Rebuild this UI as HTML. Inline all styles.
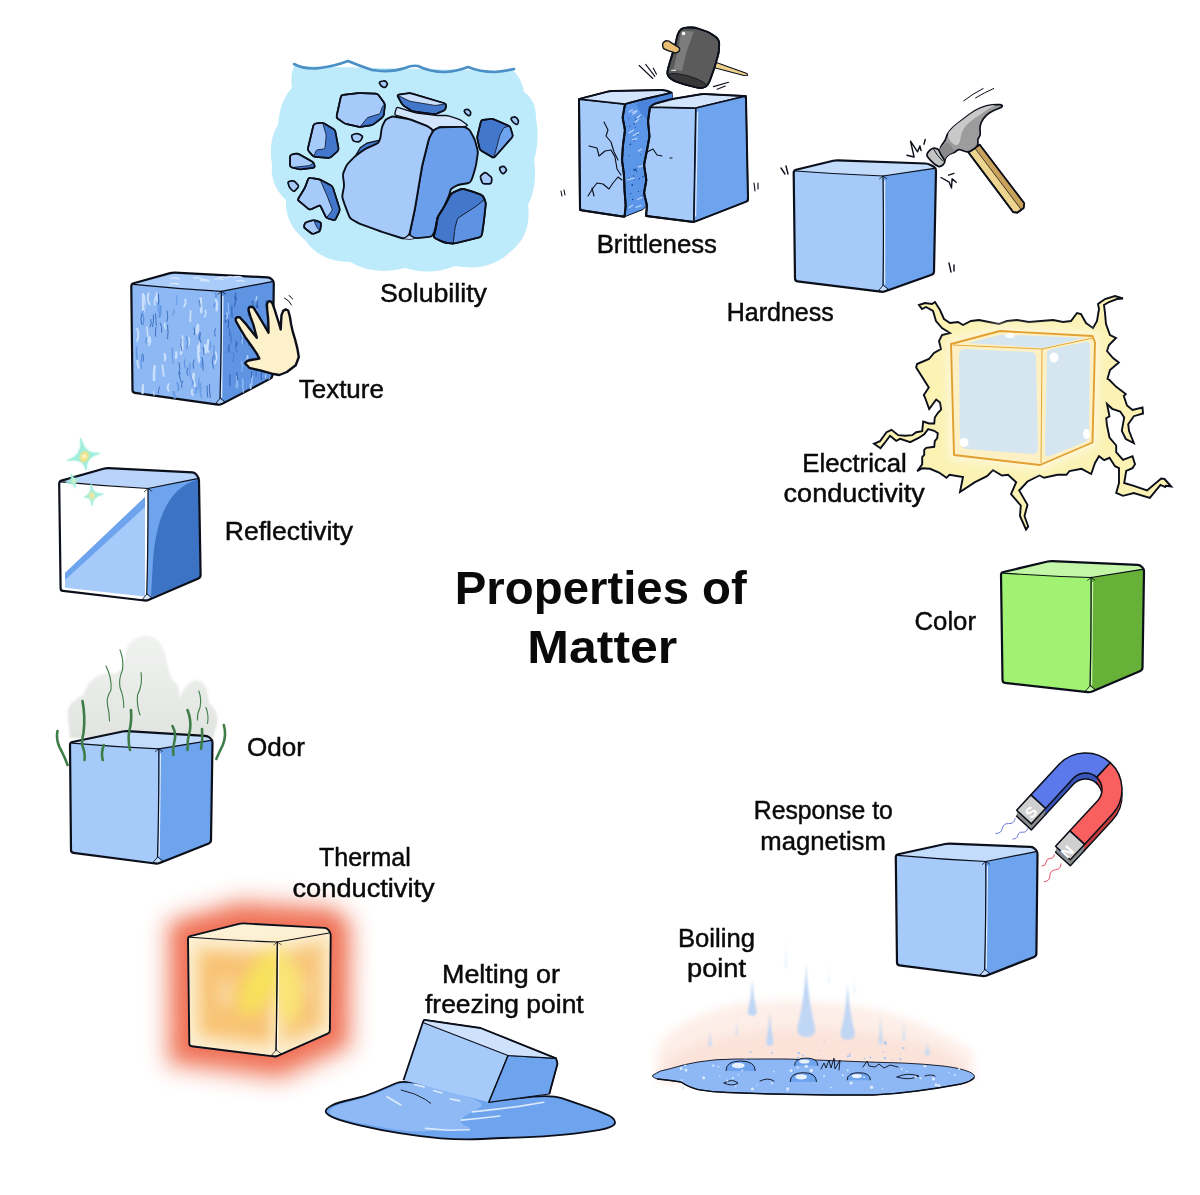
<!DOCTYPE html>
<html lang="en"><head><meta charset="utf-8"><title>Properties of Matter</title>
<style>
html,body{margin:0;padding:0;background:#fff;}
body{width:1200px;height:1195px;overflow:hidden;}
svg{display:block;}
text{font-family:"Liberation Sans",sans-serif;fill:#0a0a0a;}
.lb{font-size:25px;stroke:#0a0a0a;stroke-width:0.45px;}
.ttl{font-size:46px;font-weight:bold;}
</style></head><body>
<svg width="1200" height="1195" viewBox="0 0 1200 1195">
<defs>
<filter id="blur8" x="-30%" y="-30%" width="160%" height="160%"><feGaussianBlur stdDeviation="8"/></filter>
<filter id="blur5" x="-30%" y="-30%" width="160%" height="160%"><feGaussianBlur stdDeviation="5"/></filter>
<filter id="blur3" x="-30%" y="-30%" width="160%" height="160%"><feGaussianBlur stdDeviation="3"/></filter>
<filter id="blur1" x="-30%" y="-30%" width="160%" height="160%"><feGaussianBlur stdDeviation="1.2"/></filter>
<radialGradient id="thermF" cx="0.85" cy="0.45" r="0.8">
 <stop offset="0" stop-color="#f9e468"/><stop offset="0.45" stop-color="#f8c878"/><stop offset="0.8" stop-color="#f9d59a"/><stop offset="1" stop-color="#fdf1d6"/>
</radialGradient>
<radialGradient id="thermR" cx="0.1" cy="0.45" r="0.9">
 <stop offset="0" stop-color="#faea7a"/><stop offset="0.5" stop-color="#f8cb80"/><stop offset="1" stop-color="#fdf1d6"/>
</radialGradient>
<linearGradient id="smokeG" x1="0" y1="0" x2="0" y2="1">
 <stop offset="0" stop-color="#f1f3f1"/><stop offset="1" stop-color="#e0e3e0"/>
</linearGradient>
</defs>
<g stroke="#0b0f1a" stroke-width="2.2" stroke-linejoin="round" stroke-linecap="round"><path d="M793.7,172.8 Q793.7,170.4 796.0,169.8 L833.2,160.8 Q835.5,160.2 837.9,160.3 L925.6,163.5 Q928.0,163.6 930.1,164.8 L933.9,166.8 Q936.0,168.0 936.0,170.4 L934.0,271.6 Q934.0,274.0 931.7,274.8 L885.3,291.2 Q883.0,292.0 880.6,291.7 L797.4,281.3 Q795.0,281.0 795.0,278.6 Z" fill="#a6cbfb" stroke="none"/><clipPath id="cube1"><path d="M793.7,172.8 Q793.7,170.4 796.0,169.8 L833.2,160.8 Q835.5,160.2 837.9,160.3 L925.6,163.5 Q928.0,163.6 930.1,164.8 L933.9,166.8 Q936.0,168.0 936.0,170.4 L934.0,271.6 Q934.0,274.0 931.7,274.8 L885.3,291.2 Q883.0,292.0 880.6,291.7 L797.4,281.3 Q795.0,281.0 795.0,278.6 Z"/></clipPath><g clip-path="url(#cube1)" stroke="none"><polygon points="793.7,170.4 835.5,160.2 928.0,163.6 936.0,168.0 883.0,176.0" fill="#c4dcfc"/><polygon points="883.0,176.0 936.0,168.0 942.0,168.0 940.0,274.0 934.0,274.0 883.0,292.0" fill="#6ea3ee"/></g><path d="M795.7,171.0 Q838.4,174.4 883.0,176.0 L934.5,168.3" fill="none" stroke-width="1.21"/><path d="M884.6,181.0 L884.6,284.0" fill="none" stroke="#dceafe" stroke-width="1.3"/><path d="M883.0,176.0 Q883.8,234.0 883.0,285.5" fill="none" stroke-width="1.21"/><polygon points="883.0,285.5 878.5,290.6 883.0,291.7 888.0,289.4" fill="#c4dcfc" stroke-width="0.88"/><path d="M883.0,176.0 l-3.5,3 M883.0,176.0 l3.8,2.6" fill="none" stroke-width="0.77"/><path d="M793.7,172.8 Q793.7,170.4 796.0,169.8 L833.2,160.8 Q835.5,160.2 837.9,160.3 L925.6,163.5 Q928.0,163.6 930.1,164.8 L933.9,166.8 Q936.0,168.0 936.0,170.4 L934.0,271.6 Q934.0,274.0 931.7,274.8 L885.3,291.2 Q883.0,292.0 880.6,291.7 L797.4,281.3 Q795.0,281.0 795.0,278.6 Z" fill="none"/></g>
<g stroke="#0b0f1a" stroke-width="1.7" stroke-linejoin="round" stroke-linecap="round"><polygon points="968.5,152.4 979.7,144.7 1024.2,203.3 1023.6,208.0 1017.2,212.7 1013.1,212.1" fill="#edd590"/><polygon points="975.0,148.3 979.7,144.7 1024.2,203.3 1023.6,208.0 1020.7,209.8" fill="#c9a25c" stroke="none"/><path d="M975.0,148.3 1020.7,208.9" stroke-width="0.7" fill="none"/><polygon points="968.5,152.4 979.7,144.7 1024.2,203.3 1023.6,208.0 1017.2,212.7 1013.1,212.1" fill="none"/><path d="M941.6,155.6 Q938.7,148.8 942.2,144.5 Q945.7,140.1 946.3,137.1 Q946.9,134.2 949.8,130.7 Q952.7,127.2 958.0,123.1 Q963.3,119.0 969.1,114.6 Q975.0,110.2 980.8,107.8 Q986.7,105.5 992.0,104.9 Q997.2,104.3 999.9,104.7 Q1002.5,105.1 1002.3,106.2 Q1002.2,107.3 997.9,108.7 Q993.7,110.2 989.6,112.8 Q985.5,115.5 983.2,119.0 Q980.8,122.5 980.2,126.0 Q979.7,129.5 980.2,132.4 Q980.8,135.4 979.1,137.1 Q977.3,138.9 977.9,141.8 Q978.5,144.7 976.7,146.5 Q975.0,148.3 971.8,150.3 Q968.5,152.4 966.2,151.8 Q963.8,151.2 961.2,150.0 Q958.6,148.8 956.8,150.6 Q955.1,152.4 952.1,153.2 Q949.2,154.1 947.2,156.2 Q945.1,158.2 944.8,160.3 Q944.5,162.3 941.6,155.6Z" fill="#9c9c9c"/><path d="M948.6,138.0 Q946.9,134.8 949.8,131.1 Q952.7,127.4 958.0,123.3 Q963.3,119.2 969.1,114.9 Q975.0,110.5 980.8,108.2 Q986.7,105.9 992.0,105.3 Q997.2,104.7 993.1,106.6 Q989.0,108.4 984.3,111.7 Q979.7,114.9 975.0,118.1 Q970.3,121.3 966.8,124.8 Q963.3,128.3 962.1,131.9 Q960.9,135.4 960.3,139.5 Q959.7,143.6 957.4,144.7 Q955.1,145.9 952.7,143.6 Q950.4,141.2 948.6,138.0Z" fill="#c9c9c9" stroke="none"/><path d="M939.8,152.8 Q938.7,149.2 942.5,145.2 Q946.3,141.2 948.9,143.6 Q951.5,145.9 953.3,148.8 Q955.1,151.8 952.1,152.8 Q949.2,153.9 947.2,156.1 Q945.1,158.2 944.8,160.0 Q944.5,161.7 942.8,159.1 Q941.0,156.5 939.8,152.8Z" fill="#8a8a8a" stroke="none"/><path d="M927.2,153.5 Q928.1,151.8 930.5,149.7 Q932.8,147.7 935.7,148.3 Q938.7,148.8 939.5,151.5 Q940.4,154.1 942.5,157.0 Q944.5,160.0 944.8,161.4 Q945.1,162.9 942.8,165.0 Q940.4,167.0 938.4,166.4 Q936.3,165.8 933.1,162.9 Q929.9,160.0 928.1,157.6 Q926.4,155.3 927.2,153.5Z" fill="#c4c4c4"/><path d="M933.4,148.8 937.5,155.3 942.8,161.1" fill="none" stroke-width="1"/></g>
<g stroke="#0b0f1a" stroke-width="1.4" fill="none" stroke-linecap="round" stroke-linejoin="round">
<path d="M907.0,155.3 914.1,157.0 910.5,141.2 917.6,151.8 919.9,145.9 921.1,150.6"/><path d="M924.0,144.2 925.2,139.5"/>
<path d="M941.0,177.5 949.2,182.2 951.5,188.1 952.1,178.7 956.2,182.2"/><path d="M948.6,175.2 953.9,173.4"/>
<path d="M781,168 l4,6 M786,166 l2,8"/>
<path d="M949,263 l2,9 M954,265 l0,6"/>
<path d="M963.8,100.8 Q972.6,93.8 983.2,88.5 M975.6,97.9 Q984.3,92.6 993.7,88.5" stroke-width="1"/>
</g>
<g stroke="#0b0f1a" stroke-width="2.2" stroke-linejoin="round" stroke-linecap="round"><path d="M1001.0,574.9 Q1001.0,572.5 1003.3,572.0 L1047.7,561.5 Q1050.0,561.0 1052.4,561.1 L1137.6,564.9 Q1140.0,565.0 1141.7,566.7 L1142.3,567.3 Q1144.0,569.0 1144.0,571.4 L1142.5,667.6 Q1142.5,670.0 1140.3,670.9 L1092.2,691.6 Q1090.0,692.5 1087.6,692.2 L1004.9,682.8 Q1002.5,682.5 1002.5,680.1 Z" fill="#a1f173" stroke="none"/><clipPath id="cube2"><path d="M1001.0,574.9 Q1001.0,572.5 1003.3,572.0 L1047.7,561.5 Q1050.0,561.0 1052.4,561.1 L1137.6,564.9 Q1140.0,565.0 1141.7,566.7 L1142.3,567.3 Q1144.0,569.0 1144.0,571.4 L1142.5,667.6 Q1142.5,670.0 1140.3,670.9 L1092.2,691.6 Q1090.0,692.5 1087.6,692.2 L1004.9,682.8 Q1002.5,682.5 1002.5,680.1 Z"/></clipPath><g clip-path="url(#cube2)" stroke="none"><polygon points="1001.0,572.5 1050.0,561.0 1140.0,565.0 1144.0,569.0 1091.0,577.5" fill="#c3f6a6"/><polygon points="1091.0,577.5 1144.0,569.0 1150.0,569.0 1148.5,670.0 1142.5,670.0 1090.0,692.5" fill="#67b138"/></g><path d="M1003.0,573.1 Q1046.0,576.2 1091.0,577.5 L1142.5,569.3" fill="none" stroke-width="1.21"/><path d="M1092.6,582.5 L1091.6,684.5" fill="none" stroke="#c6f5a8" stroke-width="1.3"/><path d="M1091.0,577.5 Q1091.3,635.0 1090.0,686.0" fill="none" stroke-width="1.21"/><polygon points="1090.0,686.0 1085.5,691.1 1090.0,692.2 1095.0,689.9" fill="#c3f6a6" stroke-width="0.88"/><path d="M1091.0,577.5 l-3.5,3 M1091.0,577.5 l3.8,2.6" fill="none" stroke-width="0.77"/><path d="M1001.0,574.9 Q1001.0,572.5 1003.3,572.0 L1047.7,561.5 Q1050.0,561.0 1052.4,561.1 L1137.6,564.9 Q1140.0,565.0 1141.7,566.7 L1142.3,567.3 Q1144.0,569.0 1144.0,571.4 L1142.5,667.6 Q1142.5,670.0 1140.3,670.9 L1092.2,691.6 Q1090.0,692.5 1087.6,692.2 L1004.9,682.8 Q1002.5,682.5 1002.5,680.1 Z" fill="none"/></g>
<g stroke="#0b0f1a" stroke-width="2.2" stroke-linejoin="round" stroke-linecap="round"><path d="M895.8,857.2 Q895.8,854.8 898.1,854.3 L945.2,844.0 Q947.5,843.5 949.9,843.6 L1030.6,846.9 Q1033.0,847.0 1034.7,848.7 L1035.8,849.7 Q1037.5,851.4 1037.5,853.8 L1036.4,953.6 Q1036.4,956.0 1034.2,956.9 L986.8,975.4 Q984.6,976.3 982.2,976.0 L899.4,965.3 Q897.0,965.0 897.0,962.6 Z" fill="#a6cbfb" stroke="none"/><clipPath id="cube3"><path d="M895.8,857.2 Q895.8,854.8 898.1,854.3 L945.2,844.0 Q947.5,843.5 949.9,843.6 L1030.6,846.9 Q1033.0,847.0 1034.7,848.7 L1035.8,849.7 Q1037.5,851.4 1037.5,853.8 L1036.4,953.6 Q1036.4,956.0 1034.2,956.9 L986.8,975.4 Q984.6,976.3 982.2,976.0 L899.4,965.3 Q897.0,965.0 897.0,962.6 Z"/></clipPath><g clip-path="url(#cube3)" stroke="none"><polygon points="895.8,854.8 947.5,843.5 1033.0,847.0 1037.5,851.4 985.8,861.5" fill="#c4dcfc"/><polygon points="985.8,861.5 1037.5,851.4 1043.5,851.4 1042.4,956.0 1036.4,956.0 984.6,976.3" fill="#6ea3ee"/></g><path d="M897.8,855.4 Q940.8,859.4 985.8,861.5 L1036.0,851.7" fill="none" stroke-width="1.21"/><path d="M987.4,866.5 L986.2,968.3" fill="none" stroke="#dceafe" stroke-width="1.3"/><path d="M985.8,861.5 Q986.0,918.9 984.6,969.8" fill="none" stroke-width="1.21"/><polygon points="984.6,969.8 980.1,974.9 984.6,976.0 989.6,973.7" fill="#c4dcfc" stroke-width="0.88"/><path d="M985.8,861.5 l-3.5,3 M985.8,861.5 l3.8,2.6" fill="none" stroke-width="0.77"/><path d="M895.8,857.2 Q895.8,854.8 898.1,854.3 L945.2,844.0 Q947.5,843.5 949.9,843.6 L1030.6,846.9 Q1033.0,847.0 1034.7,848.7 L1035.8,849.7 Q1037.5,851.4 1037.5,853.8 L1036.4,953.6 Q1036.4,956.0 1034.2,956.9 L986.8,975.4 Q984.6,976.3 982.2,976.0 L899.4,965.3 Q897.0,965.0 897.0,962.6 Z" fill="none"/></g>
<path d="M70,738 L67.5,712.5 Q68,702 83.75,695 Q86,682 100,675 Q108,672 115,673.75 Q124,668 125,658 Q126,642 137.5,637.5 Q150,632 160,642.5 Q166,652 168,668 Q171,680 177.5,685 Q180,692 180,700 Q182,686 195,680 Q204,680 207,690 Q208,700 210,704 Q218,710 217.5,722.5 L212.5,740 Z" fill="url(#smokeG)" filter="url(#blur1)"/>
<g stroke="#0b0f1a" stroke-width="2.2" stroke-linejoin="round" stroke-linecap="round"><path d="M70.0,744.9 Q70.0,742.5 72.3,742.0 L122.7,731.5 Q125.0,731.0 127.4,731.1 L205.1,735.9 Q207.5,736.0 209.4,737.5 L210.6,738.5 Q212.5,740.0 212.5,742.4 L211.0,840.1 Q211.0,842.5 208.8,843.4 L159.7,862.9 Q157.5,863.8 155.1,863.5 L73.4,852.8 Q71.0,852.5 71.0,850.1 Z" fill="#a6cbfb" stroke="none"/><clipPath id="cube4"><path d="M70.0,744.9 Q70.0,742.5 72.3,742.0 L122.7,731.5 Q125.0,731.0 127.4,731.1 L205.1,735.9 Q207.5,736.0 209.4,737.5 L210.6,738.5 Q212.5,740.0 212.5,742.4 L211.0,840.1 Q211.0,842.5 208.8,843.4 L159.7,862.9 Q157.5,863.8 155.1,863.5 L73.4,852.8 Q71.0,852.5 71.0,850.1 Z"/></clipPath><g clip-path="url(#cube4)" stroke="none"><polygon points="70.0,742.5 125.0,731.0 207.5,736.0 212.5,740.0 158.8,748.8" fill="#c4dcfc"/><polygon points="158.8,748.8 212.5,740.0 218.5,740.0 217.0,842.5 211.0,842.5 157.5,863.8" fill="#6ea3ee"/></g><path d="M72.0,743.1 Q114.4,746.9 158.8,748.8 L211.0,740.3" fill="none" stroke-width="1.21"/><path d="M160.4,753.8 L159.1,855.8" fill="none" stroke="#dceafe" stroke-width="1.3"/><path d="M158.8,748.8 Q159.0,806.3 157.5,857.3" fill="none" stroke-width="1.21"/><polygon points="157.5,857.3 153.0,862.4 157.5,863.5 162.5,861.2" fill="#c4dcfc" stroke-width="0.88"/><path d="M158.8,748.8 l-3.5,3 M158.8,748.8 l3.8,2.6" fill="none" stroke-width="0.77"/><path d="M70.0,744.9 Q70.0,742.5 72.3,742.0 L122.7,731.5 Q125.0,731.0 127.4,731.1 L205.1,735.9 Q207.5,736.0 209.4,737.5 L210.6,738.5 Q212.5,740.0 212.5,742.4 L211.0,840.1 Q211.0,842.5 208.8,843.4 L159.7,862.9 Q157.5,863.8 155.1,863.5 L73.4,852.8 Q71.0,852.5 71.0,850.1 Z" fill="none"/></g>
<g fill="none" stroke="#3f7d48" stroke-linecap="round">
<g stroke-width="2.6">
<path d="M57.5,731 q-2,10 4,20 q4,8 6,14"/>
<path d="M82.5,701 q3,16 1,32 q-2,8 -1,13 q3,8 2,14" />
<path d="M103.8,745 q-3,8 -1,15"/>
<path d="M131,710 q1,12 -2,22 q-1,10 1,18"/>
<path d="M172.5,726 q4,8 2,15 q-2,8 -1,14"/>
<path d="M187.5,710 q4,10 2.5,20 q-3,10 -2.5,20"/>
<path d="M202,729 q1,10 -1,20"/>
<path d="M223.8,725 q3,10 -1,20 q-4,8 -6.5,14"/>
</g>
<g stroke-width="1.1">
<path d="M106,666 q6,12 5,24 q-5,8 -3.5,15 q2,8 2,16"/>
<path d="M120,650 q4,10 2.5,20 q-4,9 -2.5,17.5 q4,10 3.7,20"/>
<path d="M141,672.5 q2,12 -3.5,22.5 q-1,10 2.5,20"/>
<path d="M198.8,691 q3,8 1.2,16.5 q-3,6 -2.5,12.5"/>
<path d="M206,707.5 q3,8 1.5,16"/>
</g></g>
<filter id="blur12" x="-40%" y="-40%" width="180%" height="180%"><feGaussianBlur stdDeviation="11"/></filter>
<polygon points="166,921 240,899 336,906 353,924 352,1048 281,1081 166,1066" fill="#f39279" filter="url(#blur12)" opacity="0.95"/>
<polygon points="179,929 241,913 331,918 340,929 339,1039 277,1066 180,1054" fill="#ef6d52" filter="url(#blur8)" opacity="0.9"/>
<g stroke="#0b0f1a" stroke-width="1.9" stroke-linejoin="round" stroke-linecap="round"><path d="M188.0,939.1 Q188.0,936.7 190.3,936.1 L239.0,923.9 Q241.3,923.3 243.7,923.4 L324.3,927.9 Q326.7,928.0 328.3,929.8 L329.1,930.9 Q330.7,932.7 330.7,935.1 L329.9,1030.3 Q329.9,1032.7 327.7,1033.7 L278.2,1055.7 Q276.0,1056.7 273.6,1056.4 L191.7,1046.3 Q189.3,1046.0 189.3,1043.6 Z" fill="#fdf0d2" stroke="none"/><clipPath id="cube5"><path d="M188.0,939.1 Q188.0,936.7 190.3,936.1 L239.0,923.9 Q241.3,923.3 243.7,923.4 L324.3,927.9 Q326.7,928.0 328.3,929.8 L329.1,930.9 Q330.7,932.7 330.7,935.1 L329.9,1030.3 Q329.9,1032.7 327.7,1033.7 L278.2,1055.7 Q276.0,1056.7 273.6,1056.4 L191.7,1046.3 Q189.3,1046.0 189.3,1043.6 Z"/></clipPath><g clip-path="url(#cube5)" stroke="none"><polygon points="188.0,936.7 241.3,923.3 326.7,928.0 330.7,932.7 277.3,942.0" fill="#fdf1d6"/><polygon points="277.3,942.0 330.7,932.7 336.7,932.7 335.9,1032.7 329.9,1032.7 276.0,1056.7" fill="#fdf0d2"/></g><clipPath id="thc"><polygon points="188,936.7 241.3,923.3 326.7,928 330.7,932.7 329.9,1032.7 276,1056.7 189.3,1046"/></clipPath><g clip-path="url(#thc)" stroke="none"><polygon points="198,949 272,953 272,1045 199,1036" fill="#f8c374" filter="url(#blur8)"/><polygon points="283,952 324,941 323,1027 283,1044" fill="#f8c67a" filter="url(#blur8)"/><ellipse cx="226" cy="993" rx="9" ry="16" fill="#fbe2b0" filter="url(#blur8)" opacity="0.7"/><ellipse cx="306" cy="988" rx="6" ry="13" fill="#fbe2b0" filter="url(#blur8)" opacity="0.6"/><ellipse cx="262" cy="982" rx="16" ry="38" fill="#f8e25c" filter="url(#blur8)" transform="rotate(30 262 982)"/><ellipse cx="289" cy="992" rx="11" ry="32" fill="#f9e870" filter="url(#blur8)"/></g><path d="M277.3,942 L276,1056.7" stroke-width="1.1" fill="none"/><path d="M190.0,937.3 Q232.7,940.6 277.3,942.0 L329.2,933.0" fill="none" stroke-width="1.04"/><path d="M278.9,947.0 L277.6,1048.7" fill="none" stroke="#fdf6dc" stroke-width="1.3"/><path d="M277.3,942.0 Q277.4,999.4 276.0,1050.2" fill="none" stroke-width="1.04"/><polygon points="276.0,1050.2 271.5,1055.3 276.0,1056.4 281.0,1054.1" fill="#fdf1d6" stroke-width="0.76"/><path d="M277.3,942.0 l-3.5,3 M277.3,942.0 l3.8,2.6" fill="none" stroke-width="0.66"/><path d="M188.0,939.1 Q188.0,936.7 190.3,936.1 L239.0,923.9 Q241.3,923.3 243.7,923.4 L324.3,927.9 Q326.7,928.0 328.3,929.8 L329.1,930.9 Q330.7,932.7 330.7,935.1 L329.9,1030.3 Q329.9,1032.7 327.7,1033.7 L278.2,1055.7 Q276.0,1056.7 273.6,1056.4 L191.7,1046.3 Q189.3,1046.0 189.3,1043.6 Z" fill="none"/></g>
<g stroke="#0b0f1a" stroke-width="2.2" stroke-linejoin="round" stroke-linecap="round"><path d="M59.2,483.7 Q59.2,481.3 61.5,480.6 L103.5,468.7 Q105.8,468.0 108.2,468.1 L192.4,472.4 Q194.8,472.5 196.2,474.4 L197.6,476.4 Q199.0,478.3 199.0,480.7 L200.6,575.1 Q200.6,577.5 198.4,578.5 L148.9,599.8 Q146.7,600.8 144.3,600.5 L63.0,590.9 Q60.6,590.6 60.6,588.2 Z" fill="#ffffff" stroke="none"/><clipPath id="cube6"><path d="M59.2,483.7 Q59.2,481.3 61.5,480.6 L103.5,468.7 Q105.8,468.0 108.2,468.1 L192.4,472.4 Q194.8,472.5 196.2,474.4 L197.6,476.4 Q199.0,478.3 199.0,480.7 L200.6,575.1 Q200.6,577.5 198.4,578.5 L148.9,599.8 Q146.7,600.8 144.3,600.5 L63.0,590.9 Q60.6,590.6 60.6,588.2 Z"/></clipPath><g clip-path="url(#cube6)" stroke="none"><polygon points="59.2,481.3 105.8,468.0 194.8,472.5 199.0,478.3 148.0,488.5" fill="#b9d4fb"/><polygon points="148.0,488.5 199.0,478.3 205.0,478.3 206.6,577.5 200.6,577.5 146.7,600.8" fill="#6ea3ee"/></g><polygon points="145,497 145,596.5 65,587.7 65,573" fill="#a6cbfb" stroke="none"/><polygon points="145,497 145,507 65,580 65,573" fill="#6ea3ee" stroke="none"/><path d="M196,480 Q158,492 153,560 L151,597 L200.6,577.5 L199,478.3Z" fill="#3d73c4" stroke="none"/><path d="M61.2,481.9 Q103.6,486.1 148.0,488.5 L197.5,478.6" fill="none" stroke-width="1.21"/><path d="M148.0,488.5 Q148.2,544.6 146.7,594.3" fill="none" stroke-width="1.21"/><polygon points="146.7,594.3 142.2,599.4 146.7,600.5 151.7,598.2" fill="#dfeafc" stroke-width="0.88"/><path d="M148.0,488.5 l-3.5,3 M148.0,488.5 l3.8,2.6" fill="none" stroke-width="0.77"/><path d="M59.2,483.7 Q59.2,481.3 61.5,480.6 L103.5,468.7 Q105.8,468.0 108.2,468.1 L192.4,472.4 Q194.8,472.5 196.2,474.4 L197.6,476.4 Q199.0,478.3 199.0,480.7 L200.6,575.1 Q200.6,577.5 198.4,578.5 L148.9,599.8 Q146.7,600.8 144.3,600.5 L63.0,590.9 Q60.6,590.6 60.6,588.2 Z" fill="none"/></g>
<g fill="#a8f0e0" opacity="0.5" filter="url(#blur1)" stroke="#a8f0e0" stroke-width="2"><path d="M80.6,438.3 Q85.0,455.3 99.5,453.4 Q85.2,456.9 86.3,470.0 Q83.6,457.3 67.4,460.5 Q83.4,455.7 80.6,438.3Z"/><path d="M91.2,484.3 Q92.4,495.0 103.2,494.0 Q92.5,496.0 91.9,505.4 Q91.5,496.2 84.4,497.0 Q91.5,495.1 91.2,484.3Z"/><path d="M71.2,474.0 Q73.9,480.7 79.0,479.0 Q74.1,481.4 75.0,487.6 Q73.5,481.6 66.3,482.7 Q73.3,480.9 71.2,474.0Z"/></g>
<g fill="#9feedd" stroke="#9feedd" stroke-width="0.8" stroke-linejoin="round"><path d="M80.6,438.3 Q85.0,455.3 99.5,453.4 Q85.2,456.9 86.3,470.0 Q83.6,457.3 67.4,460.5 Q83.4,455.7 80.6,438.3Z"/><path d="M91.2,484.3 Q92.4,495.0 103.2,494.0 Q92.5,496.0 91.9,505.4 Q91.5,496.2 84.4,497.0 Q91.5,495.1 91.2,484.3Z"/><path d="M71.2,474.0 Q73.9,480.7 79.0,479.0 Q74.1,481.4 75.0,487.6 Q73.5,481.6 66.3,482.7 Q73.3,480.9 71.2,474.0Z"/></g>
<g filter="url(#blur1)"><ellipse cx="84.4" cy="456.6" rx="4.2" ry="5.6" fill="#f7e27a" transform="rotate(25 84.4 456.6)"/><ellipse cx="91.8" cy="495.6" rx="2.6" ry="3.6" fill="#f3e79a"/><ellipse cx="74" cy="481" rx="1.6" ry="2.2" fill="#e4f3b8"/><circle cx="84.2" cy="456.4" r="1.8" fill="#fffbe8"/></g>
<g stroke="#0b0f1a" stroke-width="2.2" stroke-linejoin="round" stroke-linecap="round"><path d="M131.3,286.2 Q131.3,283.8 133.6,283.2 L170.2,273.1 Q172.5,272.5 174.9,272.6 L267.6,277.4 Q270.0,277.5 271.7,279.2 L272.1,279.6 Q273.8,281.3 273.8,283.7 L272.5,375.1 Q272.5,377.5 270.4,378.6 L222.1,403.9 Q220.0,405.0 217.6,404.7 L134.9,392.8 Q132.5,392.5 132.5,390.1 Z" fill="#8db8f3" stroke="none"/><clipPath id="cube7"><path d="M131.3,286.2 Q131.3,283.8 133.6,283.2 L170.2,273.1 Q172.5,272.5 174.9,272.6 L267.6,277.4 Q270.0,277.5 271.7,279.2 L272.1,279.6 Q273.8,281.3 273.8,283.7 L272.5,375.1 Q272.5,377.5 270.4,378.6 L222.1,403.9 Q220.0,405.0 217.6,404.7 L134.9,392.8 Q132.5,392.5 132.5,390.1 Z"/></clipPath><g clip-path="url(#cube7)" stroke="none"><polygon points="131.3,283.8 172.5,272.5 270.0,277.5 273.8,281.3 221.3,291.3" fill="#a9ccfa"/><polygon points="221.3,291.3 273.8,281.3 279.8,281.3 278.5,377.5 272.5,377.5 220.0,405.0" fill="#5f94e2"/></g><path d="M133.3,284.4 Q176.3,288.8 221.3,291.3 L272.3,281.6" fill="none" stroke-width="1.21"/><path d="M222.9,296.3 L221.6,397.0" fill="none" stroke="#dceafe" stroke-width="1.3"/><path d="M221.3,291.3 Q221.5,348.1 220.0,398.5" fill="none" stroke-width="1.21"/><polygon points="220.0,398.5 215.5,403.6 220.0,404.7 225.0,402.4" fill="#a9ccfa" stroke-width="0.88"/><path d="M221.3,291.3 l-3.5,3 M221.3,291.3 l3.8,2.6" fill="none" stroke-width="0.77"/><path d="M131.3,286.2 Q131.3,283.8 133.6,283.2 L170.2,273.1 Q172.5,272.5 174.9,272.6 L267.6,277.4 Q270.0,277.5 271.7,279.2 L272.1,279.6 Q273.8,281.3 273.8,283.7 L272.5,375.1 Q272.5,377.5 270.4,378.6 L222.1,403.9 Q220.0,405.0 217.6,404.7 L134.9,392.8 Q132.5,392.5 132.5,390.1 Z" fill="none"/></g>
<path d="M294,66 L514,71 Q522,80 524,92 Q536,100 536,118 Q540,140 534,160 Q538,185 528,205 Q532,235 510,252 Q490,272 455,266 Q430,276 405,268 Q375,276 350,262 Q320,262 305,240 Q285,225 286,200 Q270,185 272,165 Q268,140 278,125 Q280,100 292,88 Q290,75 294,66Z" fill="#bdebfb"/>
<path d="M294,64 Q305,70 320,68 Q335,66 348,61 Q360,66 372,70 Q390,73 405,68 Q412,65 418,66 Q430,72 445,72 Q458,71 468,67 Q480,72 495,72 Q505,71 514,69" fill="none" stroke="#4a8fc6" stroke-width="2.6" stroke-linecap="round"/>
<g stroke="#0b0f1a" stroke-width="1.9" stroke-linejoin="round">
<path d="M398.5,107.6 Q396.6,107.0 396.1,109.0 L395.0,112.9 Q394.5,114.8 396.4,115.4 L407.4,118.5 Q409.3,119.1 411.2,119.8 L425.9,125.4 Q427.7,126.2 429.3,127.4 L431.8,129.2 Q433.4,130.4 435.1,129.4 L437.4,128.0 Q439.1,127.0 441.1,127.0 L462.6,126.9 Q464.6,126.9 466.2,126.2 L466.5,126.1 Q468.1,125.5 466.5,124.3 L461.9,121.0 Q460.3,119.8 458.4,119.2 L449.5,116.2 Q447.6,115.5 445.6,115.5 L439.7,115.5 Q437.7,115.5 435.7,115.3 L417.0,113.0 Q415.0,112.7 413.1,112.1 L405.6,109.8 Q403.7,109.2 401.7,108.6 Z" fill="#d3e5fd" stroke-width="1.3"/>
<polygon points="378.2,143.2 365.4,148.8 355.5,155.9 360.5,147.4 366.8,143.2 378.9,140.3" fill="#4277cb" stroke-width="1.2"/>
<path d="M432.1,132.6 Q433.4,130.4 435.6,129.2 L436.9,128.5 Q439.1,127.3 441.6,127.3 L462.1,126.9 Q464.6,126.9 466.8,128.1 L467.4,128.5 Q469.5,129.7 470.7,131.9 L473.3,136.7 Q474.5,138.9 475.2,141.3 L477.4,149.3 Q478.0,151.7 477.7,154.1 L476.3,163.4 Q475.9,165.8 475.2,168.2 L473.8,173.3 Q473.1,175.7 472.2,178.1 L471.2,180.5 Q470.2,182.8 467.8,183.2 L460.0,184.5 Q457.5,185.0 455.4,186.2 L452.6,187.9 Q450.4,189.2 450.1,191.4 L450.0,191.9 Q449.7,194.2 448.7,196.4 L444.4,206.1 Q443.3,208.3 441.9,210.4 L439.1,214.8 Q437.7,216.8 437.2,219.3 L435.3,228.5 Q434.8,231.0 433.7,233.2 L433.1,234.4 Q432.0,236.7 429.5,236.9 L417.5,238.1 Q415.0,238.4 412.8,237.2 L411.5,236.5 Q409.3,235.2 409.8,232.8 L414.5,210.8 Q415.0,208.3 415.4,205.9 L421.7,168.3 Q422.1,165.8 422.7,163.4 L428.6,139.9 Q429.2,137.5 430.5,135.4 Z" fill="#6b9feb"/>
<path d="M394.8,116.7 Q392.3,116.2 390.1,117.4 L387.5,118.7 Q385.2,119.8 384.2,122.1 L382.7,125.3 Q381.7,127.6 381.4,130.1 L380.6,136.4 Q380.3,138.9 379.3,140.8 L379.1,141.3 Q378.2,143.2 375.9,144.2 L367.7,147.8 Q365.4,148.8 363.4,150.3 L357.5,154.5 Q355.5,155.9 353.7,157.7 L348.8,162.6 Q347.0,164.4 346.0,166.7 L343.7,172.0 Q342.7,174.3 343.1,176.8 L343.9,183.2 Q344.2,185.7 343.7,188.1 L342.5,194.5 Q342.0,197.0 342.9,199.4 L344.7,204.6 Q345.6,206.9 346.5,209.3 L349.0,215.9 Q349.8,218.2 352.0,219.5 L356.2,221.9 Q358.3,223.2 360.7,224.1 L377.2,230.1 Q379.6,231.0 382.0,231.8 L401.3,238.0 Q403.7,238.8 405.8,237.5 L407.2,236.6 Q409.3,235.2 409.8,232.8 L414.5,210.8 Q415.0,208.3 415.4,205.9 L421.7,168.3 Q422.1,165.8 422.7,163.4 L428.6,139.9 Q429.2,137.5 430.5,135.4 L432.1,132.6 Q433.4,130.4 431.4,128.9 L429.7,127.7 Q427.7,126.2 425.4,125.3 L411.7,120.0 Q409.3,119.1 406.9,118.7 Z" fill="#a6cbfb"/>
<polygon points="403.7,238.8 409.3,235.2 415.0,238.4 410.0,239.5" fill="#c4dcfc" stroke-width="0.8"/>
</g>
<path d="M340.8,97.0 Q341.2,95.0 343.2,94.8 L358.0,93.2 Q360.0,93.0 362.0,93.1 L375.5,93.7 Q377.5,93.8 378.7,95.3 L383.8,102.2 Q385.0,103.8 384.8,105.7 L383.9,114.3 Q383.8,116.2 382.2,117.5 L374.1,123.8 Q372.5,125.0 370.5,125.3 L362.0,126.7 Q360.0,127.0 358.0,126.6 L347.0,124.2 Q345.0,123.8 343.4,122.6 L337.9,118.7 Q336.2,117.5 336.7,115.5 Z" fill="#a6cbfb" stroke="#0b0f1a" stroke-width="1.7" stroke-linejoin="round"/><clipPath id="chk1"><path d="M340.8,97.0 Q341.2,95.0 343.2,94.8 L358.0,93.2 Q360.0,93.0 362.0,93.1 L375.5,93.7 Q377.5,93.8 378.7,95.3 L383.8,102.2 Q385.0,103.8 384.8,105.7 L383.9,114.3 Q383.8,116.2 382.2,117.5 L374.1,123.8 Q372.5,125.0 370.5,125.3 L362.0,126.7 Q360.0,127.0 358.0,126.6 L347.0,124.2 Q345.0,123.8 343.4,122.6 L337.9,118.7 Q336.2,117.5 336.7,115.5 Z"/></clipPath><path d="M383.9,104.8 Q385.0,103.8 384.9,105.2 L383.9,114.8 Q383.8,116.2 382.6,117.2 L373.7,124.1 Q372.5,125.0 371.0,125.2 L361.5,126.8 Q360.0,127.0 360.9,125.8 L366.6,118.7 Q367.5,117.5 368.9,117.1 L378.6,114.2 Q380.0,113.8 380.5,112.3 L382.0,107.7 Q382.5,106.2 383.6,105.2 Z" fill="#4277cb" stroke="#0b0f1a" stroke-width="0.8" stroke-linejoin="round" clip-path="url(#chk1)"/><path d="M340.8,97.0 Q341.2,95.0 343.2,94.8 L358.0,93.2 Q360.0,93.0 362.0,93.1 L375.5,93.7 Q377.5,93.8 378.7,95.3 L383.8,102.2 Q385.0,103.8 384.8,105.7 L383.9,114.3 Q383.8,116.2 382.2,117.5 L374.1,123.8 Q372.5,125.0 370.5,125.3 L362.0,126.7 Q360.0,127.0 358.0,126.6 L347.0,124.2 Q345.0,123.8 343.4,122.6 L337.9,118.7 Q336.2,117.5 336.7,115.5 Z" fill="none" stroke="#0b0f1a" stroke-width="1.7" stroke-linejoin="round"/>
<path d="M398.0,96.8 Q397.0,95.0 399.0,94.7 L408.0,93.3 Q410.0,93.0 411.9,93.6 L444.3,103.2 Q446.2,103.8 446.0,105.7 L445.7,108.0 Q445.5,110.0 443.6,110.8 L436.9,113.5 Q435.0,114.2 433.0,114.0 L414.5,111.5 Q412.5,111.2 410.8,110.2 L404.2,106.1 Q402.5,105.0 401.5,103.2 Z" fill="#4277cb" stroke="#0b0f1a" stroke-width="1.7" stroke-linejoin="round"/><clipPath id="chk2"><path d="M398.0,96.8 Q397.0,95.0 399.0,94.7 L408.0,93.3 Q410.0,93.0 411.9,93.6 L444.3,103.2 Q446.2,103.8 446.0,105.7 L445.7,108.0 Q445.5,110.0 443.6,110.8 L436.9,113.5 Q435.0,114.2 433.0,114.0 L414.5,111.5 Q412.5,111.2 410.8,110.2 L404.2,106.1 Q402.5,105.0 401.5,103.2 Z"/></clipPath><path d="M398.4,95.6 Q397.0,95.0 398.5,94.8 L408.5,93.2 Q410.0,93.0 411.4,93.4 L444.8,103.3 Q446.2,103.8 444.8,104.0 L436.5,105.3 Q435.0,105.5 433.5,105.2 L411.5,101.5 Q410.0,101.2 408.6,100.6 Z" fill="#c9dffc" stroke="#0b0f1a" stroke-width="0.8" stroke-linejoin="round" clip-path="url(#chk2)"/><path d="M398.0,96.8 Q397.0,95.0 399.0,94.7 L408.0,93.3 Q410.0,93.0 411.9,93.6 L444.3,103.2 Q446.2,103.8 446.0,105.7 L445.7,108.0 Q445.5,110.0 443.6,110.8 L436.9,113.5 Q435.0,114.2 433.0,114.0 L414.5,111.5 Q412.5,111.2 410.8,110.2 L404.2,106.1 Q402.5,105.0 401.5,103.2 Z" fill="none" stroke="#0b0f1a" stroke-width="1.7" stroke-linejoin="round"/>
<path d="M480.8,121.9 Q481.2,120.0 483.2,119.8 L490.5,119.0 Q492.5,118.8 494.3,119.5 L508.2,125.5 Q510.0,126.2 510.6,128.2 L512.4,134.3 Q513.0,136.2 511.7,137.7 L495.1,156.5 Q493.8,158.0 492.0,157.0 L481.7,151.0 Q480.0,150.0 479.5,148.1 L477.5,139.4 Q477.0,137.5 477.5,135.6 Z" fill="#4277cb" stroke="#0b0f1a" stroke-width="1.7" stroke-linejoin="round"/><clipPath id="chk3"><path d="M480.8,121.9 Q481.2,120.0 483.2,119.8 L490.5,119.0 Q492.5,118.8 494.3,119.5 L508.2,125.5 Q510.0,126.2 510.6,128.2 L512.4,134.3 Q513.0,136.2 511.7,137.7 L495.1,156.5 Q493.8,158.0 492.0,157.0 L481.7,151.0 Q480.0,150.0 479.5,148.1 L477.5,139.4 Q477.0,137.5 477.5,135.6 Z"/></clipPath><path d="M508.5,126.5 Q510.0,126.2 510.4,127.7 L512.6,134.8 Q513.0,136.2 512.0,137.4 L494.7,156.9 Q493.8,158.0 494.1,156.6 L499.6,136.4 Q500.0,135.0 500.7,133.7 L503.1,128.8 Q503.8,127.5 505.2,127.2 Z" fill="#6ea3ee" stroke="#0b0f1a" stroke-width="0.8" stroke-linejoin="round" clip-path="url(#chk3)"/><path d="M480.8,121.9 Q481.2,120.0 483.2,119.8 L490.5,119.0 Q492.5,118.8 494.3,119.5 L508.2,125.5 Q510.0,126.2 510.6,128.2 L512.4,134.3 Q513.0,136.2 511.7,137.7 L495.1,156.5 Q493.8,158.0 492.0,157.0 L481.7,151.0 Q480.0,150.0 479.5,148.1 L477.5,139.4 Q477.0,137.5 477.5,135.6 Z" fill="none" stroke="#0b0f1a" stroke-width="1.7" stroke-linejoin="round"/>
<path d="M313.3,125.7 Q313.8,123.8 315.7,123.5 L320.5,122.8 Q322.5,122.5 324.2,123.5 L333.3,129.0 Q335.0,130.0 335.4,132.0 L338.4,148.0 Q338.8,150.0 337.3,151.3 L331.5,156.7 Q330.0,158.0 328.0,157.8 L315.7,156.9 Q313.8,156.8 312.4,155.3 L308.9,151.5 Q307.5,150.0 308.0,148.1 Z" fill="#a6cbfb" stroke="#0b0f1a" stroke-width="1.7" stroke-linejoin="round"/><clipPath id="chk4"><path d="M313.3,125.7 Q313.8,123.8 315.7,123.5 L320.5,122.8 Q322.5,122.5 324.2,123.5 L333.3,129.0 Q335.0,130.0 335.4,132.0 L338.4,148.0 Q338.8,150.0 337.3,151.3 L331.5,156.7 Q330.0,158.0 328.0,157.8 L315.7,156.9 Q313.8,156.8 312.4,155.3 L308.9,151.5 Q307.5,150.0 308.0,148.1 Z"/></clipPath><path d="M322.9,123.9 Q322.5,122.5 323.8,123.3 L333.7,129.2 Q335.0,130.0 335.3,131.5 L338.5,148.5 Q338.8,150.0 337.6,151.0 L331.1,157.0 Q330.0,158.0 328.5,157.9 L315.2,156.9 Q313.8,156.8 314.3,155.3 L315.7,151.4 Q316.2,150.0 317.7,149.8 L323.5,149.0 Q325.0,148.8 325.1,147.3 L326.1,136.5 Q326.2,135.0 325.8,133.6 Z" fill="#4277cb" stroke="#0b0f1a" stroke-width="0.8" stroke-linejoin="round" clip-path="url(#chk4)"/><path d="M313.3,125.7 Q313.8,123.8 315.7,123.5 L320.5,122.8 Q322.5,122.5 324.2,123.5 L333.3,129.0 Q335.0,130.0 335.4,132.0 L338.4,148.0 Q338.8,150.0 337.3,151.3 L331.5,156.7 Q330.0,158.0 328.0,157.8 L315.7,156.9 Q313.8,156.8 312.4,155.3 L308.9,151.5 Q307.5,150.0 308.0,148.1 Z" fill="none" stroke="#0b0f1a" stroke-width="1.7" stroke-linejoin="round"/>
<path d="M290.0,157.0 Q290.0,155.0 291.9,154.5 L295.6,153.7 Q297.5,153.2 299.2,154.2 L312.0,161.5 Q313.8,162.5 314.2,164.4 L314.5,165.6 Q315.0,167.5 313.0,167.8 L302.0,169.2 Q300.0,169.5 298.1,169.0 L291.9,167.5 Q290.0,167.0 290.0,165.0 Z" fill="#a6cbfb" stroke="#0b0f1a" stroke-width="1.7" stroke-linejoin="round"/><clipPath id="chk5"><path d="M290.0,157.0 Q290.0,155.0 291.9,154.5 L295.6,153.7 Q297.5,153.2 299.2,154.2 L312.0,161.5 Q313.8,162.5 314.2,164.4 L314.5,165.6 Q315.0,167.5 313.0,167.8 L302.0,169.2 Q300.0,169.5 298.1,169.0 L291.9,167.5 Q290.0,167.0 290.0,165.0 Z"/></clipPath><path d="M312.6,163.4 Q313.8,162.5 314.1,164.0 L314.6,166.0 Q315.0,167.5 313.5,167.7 L301.5,169.3 Q300.0,169.5 298.6,169.1 L293.9,167.9 Q292.5,167.5 294.0,167.3 L308.5,165.7 Q310.0,165.5 311.2,164.6 Z" fill="#4277cb" stroke="#0b0f1a" stroke-width="0.8" stroke-linejoin="round" clip-path="url(#chk5)"/><path d="M290.0,157.0 Q290.0,155.0 291.9,154.5 L295.6,153.7 Q297.5,153.2 299.2,154.2 L312.0,161.5 Q313.8,162.5 314.2,164.4 L314.5,165.6 Q315.0,167.5 313.0,167.8 L302.0,169.2 Q300.0,169.5 298.1,169.0 L291.9,167.5 Q290.0,167.0 290.0,165.0 Z" fill="none" stroke="#0b0f1a" stroke-width="1.7" stroke-linejoin="round"/>
<path d="M308.0,179.4 Q308.8,177.5 310.7,177.9 L318.0,179.1 Q320.0,179.5 321.8,180.5 L330.7,185.3 Q332.5,186.2 333.1,188.2 L339.4,208.1 Q340.0,210.0 339.1,211.8 L335.9,218.7 Q335.0,220.5 333.1,220.0 L328.2,218.5 Q326.2,218.0 325.4,216.2 L320.9,206.8 Q320.0,205.0 318.2,205.9 L311.8,209.1 Q310.0,210.0 308.4,208.8 L299.1,201.2 Q297.5,200.0 298.5,198.3 L304.0,189.2 Q305.0,187.5 305.7,185.6 Z" fill="#a6cbfb" stroke="#0b0f1a" stroke-width="1.7" stroke-linejoin="round"/><clipPath id="chk6"><path d="M308.0,179.4 Q308.8,177.5 310.7,177.9 L318.0,179.1 Q320.0,179.5 321.8,180.5 L330.7,185.3 Q332.5,186.2 333.1,188.2 L339.4,208.1 Q340.0,210.0 339.1,211.8 L335.9,218.7 Q335.0,220.5 333.1,220.0 L328.2,218.5 Q326.2,218.0 325.4,216.2 L320.9,206.8 Q320.0,205.0 318.2,205.9 L311.8,209.1 Q310.0,210.0 308.4,208.8 L299.1,201.2 Q297.5,200.0 298.5,198.3 L304.0,189.2 Q305.0,187.5 305.7,185.6 Z"/></clipPath><path d="M320.6,180.9 Q320.0,179.5 321.3,180.2 L331.2,185.5 Q332.5,186.2 333.0,187.7 L339.5,208.6 Q340.0,210.0 339.4,211.4 L335.6,219.1 Q335.0,220.5 333.6,220.1 L327.7,218.4 Q326.2,218.0 327.2,216.8 L331.6,211.2 Q332.5,210.0 332.0,208.6 L326.8,195.2 Q326.2,193.8 325.6,192.4 Z" fill="#4277cb" stroke="#0b0f1a" stroke-width="0.8" stroke-linejoin="round" clip-path="url(#chk6)"/><path d="M308.0,179.4 Q308.8,177.5 310.7,177.9 L318.0,179.1 Q320.0,179.5 321.8,180.5 L330.7,185.3 Q332.5,186.2 333.1,188.2 L339.4,208.1 Q340.0,210.0 339.1,211.8 L335.9,218.7 Q335.0,220.5 333.1,220.0 L328.2,218.5 Q326.2,218.0 325.4,216.2 L320.9,206.8 Q320.0,205.0 318.2,205.9 L311.8,209.1 Q310.0,210.0 308.4,208.8 L299.1,201.2 Q297.5,200.0 298.5,198.3 L304.0,189.2 Q305.0,187.5 305.7,185.6 Z" fill="none" stroke="#0b0f1a" stroke-width="1.7" stroke-linejoin="round"/>
<path d="M304.5,224.4 Q305.0,222.5 306.9,222.0 L311.8,220.5 Q313.8,220.0 315.6,220.6 L319.4,221.9 Q321.2,222.5 321.0,224.5 L320.3,229.3 Q320.0,231.2 318.1,232.0 L314.4,233.5 Q312.5,234.2 310.9,233.0 L305.3,228.7 Q303.8,227.5 304.2,225.6 Z" fill="#a6cbfb" stroke="#0b0f1a" stroke-width="1.7" stroke-linejoin="round"/><clipPath id="chk7"><path d="M304.5,224.4 Q305.0,222.5 306.9,222.0 L311.8,220.5 Q313.8,220.0 315.6,220.6 L319.4,221.9 Q321.2,222.5 321.0,224.5 L320.3,229.3 Q320.0,231.2 318.1,232.0 L314.4,233.5 Q312.5,234.2 310.9,233.0 L305.3,228.7 Q303.8,227.5 304.2,225.6 Z"/></clipPath><path d="M314.3,221.4 Q313.8,220.0 315.2,220.5 L319.8,222.0 Q321.2,222.5 321.0,224.0 L320.2,229.8 Q320.0,231.2 319.1,230.1 L317.1,227.4 Q316.2,226.2 315.7,224.9 Z" fill="#4277cb" stroke="#0b0f1a" stroke-width="0.8" stroke-linejoin="round" clip-path="url(#chk7)"/><path d="M304.5,224.4 Q305.0,222.5 306.9,222.0 L311.8,220.5 Q313.8,220.0 315.6,220.6 L319.4,221.9 Q321.2,222.5 321.0,224.5 L320.3,229.3 Q320.0,231.2 318.1,232.0 L314.4,233.5 Q312.5,234.2 310.9,233.0 L305.3,228.7 Q303.8,227.5 304.2,225.6 Z" fill="none" stroke="#0b0f1a" stroke-width="1.7" stroke-linejoin="round"/>
<path d="M379.8,83.7 Q378.8,82.0 380.7,81.5 L383.1,81.0 Q385.0,80.5 386.4,82.0 L386.6,82.3 Q388.0,83.8 386.8,85.4 L386.2,86.4 Q385.0,88.0 383.3,87.2 L382.9,87.0 Q381.2,86.2 380.2,84.5 Z" fill="#a6cbfb" stroke="#0b0f1a" stroke-width="1.7" stroke-linejoin="round"/>
<path d="M464.5,111.7 Q463.8,110.0 465.7,109.5 L466.1,109.5 Q468.0,109.0 469.4,110.5 L469.9,111.0 Q471.2,112.5 470.5,114.2 L470.3,114.6 Q469.5,116.2 467.8,115.2 L467.2,114.8 Q465.5,113.8 464.7,112.1 Z" fill="#a6cbfb" stroke="#0b0f1a" stroke-width="1.7" stroke-linejoin="round"/>
<path d="M511.4,119.8 Q510.5,118.0 512.4,117.4 L513.6,117.1 Q515.5,116.5 516.7,118.1 L517.8,119.6 Q519.0,121.2 518.1,122.9 L517.9,123.3 Q517.0,125.0 515.3,123.9 L514.2,123.1 Q512.5,122.0 511.6,120.2 Z" fill="#a6cbfb" stroke="#0b0f1a" stroke-width="1.7" stroke-linejoin="round"/>
<path d="M351.8,136.9 Q351.2,135.0 353.2,134.5 L355.6,133.8 Q357.5,133.2 359.3,134.2 L361.2,135.3 Q363.0,136.2 362.1,138.0 L360.9,140.2 Q360.0,142.0 358.0,141.8 L355.0,141.5 Q353.0,141.2 352.5,139.3 Z" fill="#a6cbfb" stroke="#0b0f1a" stroke-width="1.7" stroke-linejoin="round"/>
<path d="M288.2,183.6 Q287.5,181.8 289.5,181.4 L291.8,180.9 Q293.8,180.5 295.1,181.9 L297.9,184.8 Q299.2,186.2 297.9,187.7 L295.1,190.6 Q293.8,192.0 292.4,190.5 L290.9,189.0 Q289.5,187.5 288.8,185.6 Z" fill="#a6cbfb" stroke="#0b0f1a" stroke-width="1.7" stroke-linejoin="round"/>
<path d="M480.6,178.1 Q480.0,176.2 481.5,175.0 L483.5,173.3 Q485.0,172.0 486.6,173.2 L490.4,176.3 Q492.0,177.5 491.8,179.5 L491.5,181.8 Q491.2,183.8 489.2,183.8 L484.5,183.8 Q482.5,183.8 481.9,181.9 Z" fill="#a6cbfb" stroke="#0b0f1a" stroke-width="1.7" stroke-linejoin="round"/>
<path d="M499.8,169.4 Q499.2,167.5 501.1,166.9 L501.9,166.6 Q503.8,166.0 505.1,167.5 L505.6,168.0 Q507.0,169.5 505.9,171.2 L504.9,172.6 Q503.8,174.2 502.3,173.2 L502.0,173.0 Q500.5,172.0 500.0,170.1 Z" fill="#a6cbfb" stroke="#0b0f1a" stroke-width="1.7" stroke-linejoin="round"/>
<path d="M450.0,195.7 Q451.1,193.5 453.4,192.4 L459.5,189.6 Q461.7,188.5 464.2,189.2 L469.3,190.6 Q471.7,191.3 474.0,192.2 L480.7,194.7 Q483.0,195.6 483.9,197.9 L484.9,200.3 Q485.8,202.7 485.6,205.1 L484.0,220.0 Q483.7,222.5 483.3,225.0 L482.0,234.2 Q481.6,236.7 479.2,237.3 L455.7,243.1 Q453.2,243.7 450.8,243.4 L445.8,242.7 Q443.3,242.3 441.1,241.2 L435.7,238.5 Q433.4,237.4 434.1,235.0 L434.9,232.0 Q435.5,229.6 436.0,227.1 L437.3,219.3 Q437.7,216.8 439.1,214.8 L441.9,210.4 Q443.3,208.3 444.5,206.1 Z" fill="#4277cb" stroke="#0b0f1a" stroke-width="1.9" stroke-linejoin="round"/>
<path d="M457.0,220.2 Q457.5,218.2 459.2,217.2 L475.6,206.6 Q477.3,205.5 478.8,204.2 L483.2,200.4 Q484.7,199.1 485.2,200.7 L485.3,201.1 Q485.8,202.7 485.6,204.7 L483.9,220.5 Q483.7,222.5 483.4,224.5 L481.9,234.7 Q481.6,236.7 479.6,237.1 L455.2,243.3 Q453.2,243.7 453.4,241.8 L454.5,231.6 Q454.7,229.6 455.1,227.6 Z" fill="#5e93e3" stroke="#0b0f1a" stroke-width="0.9" stroke-linejoin="round"/>
<path d="M450.0,195.7 Q451.1,193.5 453.4,192.4 L459.5,189.6 Q461.7,188.5 464.2,189.2 L469.3,190.6 Q471.7,191.3 474.0,192.2 L480.7,194.7 Q483.0,195.6 483.9,197.9 L484.9,200.3 Q485.8,202.7 485.6,205.1 L484.0,220.0 Q483.7,222.5 483.3,225.0 L482.0,234.2 Q481.6,236.7 479.2,237.3 L455.7,243.1 Q453.2,243.7 450.8,243.4 L445.8,242.7 Q443.3,242.3 441.1,241.2 L435.7,238.5 Q433.4,237.4 434.1,235.0 L434.9,232.0 Q435.5,229.6 436.0,227.1 L437.3,219.3 Q437.7,216.8 439.1,214.8 L441.9,210.4 Q443.3,208.3 444.5,206.1 Z" fill="none" stroke="#0b0f1a" stroke-width="1.9" stroke-linejoin="round"/>
<g stroke="#0b0f1a" stroke-width="2" stroke-linejoin="round" stroke-linecap="round">
<polygon points="625.0,104.0 644.0,99.0 659.0,95.7 672.0,92.5 672.8,98.8 654.0,104.0 650.0,107.0 648.0,121.0 649.5,136.5 647.0,150.0 644.0,165.0 646.4,180.0 644.0,193.0 647.0,205.5 643.0,209.5 624.5,216.8 625.7,205.5 624.5,190.0 624.0,175.0 622.0,160.0 623.0,145.0 625.0,130.0 622.6,117.6 625.0,104.0" fill="#5c96e8" stroke-width="1"/>
<polygon points="644.0,99.0 659.0,95.7 672.0,92.5 672.8,98.8 654.0,104.0 650.0,107.0 648.0,121.0 640.0,112.0 636.0,104.0" fill="#4a84db" stroke="none"/>
<circle cx="630.3" cy="144.4" r="0.8" fill="#17469e" stroke="none"/><circle cx="636.0" cy="119.2" r="0.6" fill="#17469e" stroke="none"/><circle cx="635.6" cy="117.8" r="0.5" fill="#17469e" stroke="none"/><circle cx="629.0" cy="155.4" r="0.5" fill="#17469e" stroke="none"/><circle cx="640.4" cy="154.5" r="0.5" fill="#17469e" stroke="none"/><circle cx="637.4" cy="134.3" r="0.9" fill="#17469e" stroke="none"/><circle cx="634.0" cy="169.7" r="0.9" fill="#17469e" stroke="none"/><circle cx="640.9" cy="116.7" r="0.6" fill="#17469e" stroke="none"/><circle cx="629.8" cy="126.4" r="0.6" fill="#17469e" stroke="none"/><circle cx="630.7" cy="193.6" r="0.7" fill="#17469e" stroke="none"/><circle cx="633.6" cy="175.9" r="0.7" fill="#17469e" stroke="none"/><circle cx="628.9" cy="118.3" r="0.6" fill="#17469e" stroke="none"/><circle cx="634.4" cy="180.0" r="0.6" fill="#17469e" stroke="none"/><circle cx="634.8" cy="170.6" r="0.6" fill="#17469e" stroke="none"/><circle cx="638.5" cy="191.4" r="0.6" fill="#17469e" stroke="none"/><circle cx="635.9" cy="169.4" r="0.9" fill="#17469e" stroke="none"/><circle cx="632.3" cy="184.9" r="0.9" fill="#17469e" stroke="none"/><circle cx="634.3" cy="123.8" r="0.8" fill="#17469e" stroke="none"/><circle cx="635.3" cy="127.2" r="0.5" fill="#17469e" stroke="none"/><circle cx="639.5" cy="178.8" r="0.7" fill="#17469e" stroke="none"/><circle cx="632.7" cy="199.5" r="0.8" fill="#17469e" stroke="none"/><circle cx="636.7" cy="171.4" r="0.7" fill="#17469e" stroke="none"/><circle cx="642.2" cy="196.0" r="0.7" fill="#17469e" stroke="none"/><circle cx="628.9" cy="178.4" r="0.8" fill="#17469e" stroke="none"/><circle cx="642.9" cy="176.7" r="0.8" fill="#17469e" stroke="none"/><circle cx="633.8" cy="140.5" r="0.8" fill="#17469e" stroke="none"/><path d="M633.0,114.3 l3.7,-2.8" stroke="#b4d2fb" stroke-width="1.3" fill="none"/><path d="M637.0,117.9 l3.5,-2.5" stroke="#b4d2fb" stroke-width="1.3" fill="none"/><path d="M638.3,151.1 l3.3,-2.1" stroke="#b4d2fb" stroke-width="1.3" fill="none"/><path d="M638.5,166.9 l6.3,-1.3" stroke="#b4d2fb" stroke-width="1.3" fill="none"/><path d="M632.4,139.8 l4.4,-1.2" stroke="#b4d2fb" stroke-width="1.3" fill="none"/><path d="M629.0,207.8 l3.7,-2.5" stroke="#b4d2fb" stroke-width="1.3" fill="none"/><path d="M633.3,135.3 l5.4,-2.5" stroke="#b4d2fb" stroke-width="1.3" fill="none"/><path d="M632.4,112.4 l4.5,-1.9" stroke="#b4d2fb" stroke-width="1.3" fill="none"/><path d="M636.0,207.3 l5.1,-1.8" stroke="#b4d2fb" stroke-width="1.3" fill="none"/><path d="M627.7,179.6 l6.6,-1.4" stroke="#b4d2fb" stroke-width="1.3" fill="none"/><path d="M637.4,199.5 l4.6,-2.2" stroke="#b4d2fb" stroke-width="1.3" fill="none"/><path d="M635.2,122.4 l3.2,-2.9" stroke="#b4d2fb" stroke-width="1.3" fill="none"/><path d="M629.1,132.9 l4.4,-2.9" stroke="#b4d2fb" stroke-width="1.3" fill="none"/><path d="M629.0,112.0 l3.4,-2.3" stroke="#b4d2fb" stroke-width="1.3" fill="none"/>
<polygon points="579.0,99.0 625.0,104.0 622.6,117.6 625.0,130.0 623.0,145.0 622.0,160.0 624.0,175.0 624.5,190.0 625.7,205.5 624.5,216.8 580.0,210.0" fill="#a6cbfb"/>
<polygon points="579.0,99.0 610.0,91.0 664.0,90.0 672.0,92.5 659.0,95.7 644.0,99.0 625.0,104.0" fill="#d3e5fd" stroke-width="1.3"/>
<polygon points="650.0,107.0 648.0,121.0 649.5,136.5 647.0,150.0 644.0,165.0 646.4,180.0 644.0,193.0 647.0,205.5 646.0,216.0 694.0,222.0 696.0,108.0" fill="#a6cbfb"/>
<polygon points="650.0,107.0 654.0,104.0 672.8,98.8 702.0,94.0 746.0,96.0 696.0,108.0" fill="#d3e5fd" stroke-width="1.3"/>
<polygon points="696,108 746,96 748,201 694,222" fill="#6ea3ee" stroke-width="1.3"/>
<path d="M579.0,101.5 Q579.0,99.0 581.4,98.4 L607.6,91.6 Q610.0,91.0 612.5,91.0 L661.5,90.0 Q664.0,90.0 666.4,90.7 L669.6,91.8 Q672.0,92.5 669.6,93.1 L661.4,95.1 Q659.0,95.7 656.6,96.2 L646.4,98.5 Q644.0,99.0 641.6,99.6 L627.4,103.4 Q625.0,104.0 624.6,106.5 L623.0,115.1 Q622.6,117.6 623.1,120.1 L624.5,127.5 Q625.0,130.0 624.7,132.5 L623.3,142.5 Q623.0,145.0 622.8,147.5 L622.2,157.5 Q622.0,160.0 622.3,162.5 L623.7,172.5 Q624.0,175.0 624.1,177.5 L624.4,187.5 Q624.5,190.0 624.7,192.5 L625.5,203.0 Q625.7,205.5 625.4,208.0 L624.8,214.3 Q624.5,216.8 622.0,216.4 L582.5,210.4 Q580.0,210.0 580.0,207.5 Z" fill="none"/>
<path d="M649.6,109.5 Q650.0,107.0 651.8,105.7 L652.2,105.3 Q654.0,104.0 656.4,103.3 L670.4,99.5 Q672.8,98.8 675.3,98.4 L699.5,94.4 Q702.0,94.0 704.5,94.1 L743.5,95.9 Q746.0,96.0 746.0,98.5 L748.0,198.5 Q748.0,201.0 745.7,201.9 L696.3,221.1 Q694.0,222.0 691.5,221.7 L648.5,216.3 Q646.0,216.0 646.2,213.5 L646.8,208.0 Q647.0,205.5 646.4,203.1 L644.6,195.4 Q644.0,193.0 644.5,190.5 L645.9,182.5 Q646.4,180.0 646.0,177.5 L644.4,167.5 Q644.0,165.0 644.5,162.5 L646.5,152.5 Q647.0,150.0 647.5,147.5 L649.0,139.0 Q649.5,136.5 649.3,134.0 L648.2,123.5 Q648.0,121.0 648.4,118.5 Z" fill="none"/>
<path d="M697.6,112 L695.6,216" stroke="#dceafe" stroke-width="1.2" fill="none"/>
<g fill="none" stroke-width="1.1"><path d="M604,122 l4,8 l-2,6 l5,6 l3,10 l4,8"/><path d="M589,146 l8,2 l2,8 l6,-5 l6,-1 l4,7 l2,12 l4,6"/><path d="M588,196 l5,-8 l4,-5 l6,1 l6,5 l4,-6 l5,-6 l4,3"/><path d="M592,188 l2,8"/><path d="M647,152 l6,-3 l4,6 l5,1 M670,158 l2,0"/></g>
</g>
<g stroke="#0b0f1a" stroke-width="1.8" stroke-linejoin="round" stroke-linecap="round"><polygon points="715.6,62.3 747.0,73.6 747.6,75.3 743.8,75.5 714.5,67.7" fill="#ecd08c" stroke-width="1.1"/><path d="M679.5,31.1 Q680.9,28.7 683.4,28.1 L683.9,28.0 Q686.3,27.4 689.3,27.4 L692.0,27.5 Q695.0,27.6 697.9,28.5 L705.2,31.0 Q708.0,31.9 710.6,33.5 L714.1,35.7 Q716.7,37.3 717.9,39.3 L718.2,39.7 Q719.4,41.7 719.2,44.7 L719.0,49.5 Q718.8,52.5 718.0,55.4 L715.3,64.8 Q714.5,67.7 713.5,70.5 L710.1,80.0 Q709.1,82.8 707.6,84.8 L707.3,85.2 Q705.8,87.2 702.9,87.7 L702.3,87.8 Q699.3,88.3 696.4,87.5 L689.2,85.7 Q686.3,85.0 683.5,84.1 L676.2,81.6 Q673.3,80.7 671.0,78.8 L669.7,77.7 Q667.4,75.8 667.4,73.6 L667.4,73.1 Q667.4,70.9 668.2,68.0 L670.3,60.8 Q671.2,57.9 672.1,55.1 L674.6,46.7 Q675.5,43.8 676.2,40.9 L677.0,37.0 Q677.7,34.1 679.1,31.6 Z" fill="#5b5b5b"/><path d="M667.6,75.0 Q667.9,74.2 671.7,73.6 Q675.5,73.1 683.1,74.7 Q690.7,76.3 697.2,79.0 Q703.7,81.8 705.4,83.7 Q707.1,85.5 705.9,86.6 Q704.8,87.7 702.0,88.0 Q699.3,88.3 692.8,86.6 Q686.3,85.0 679.8,82.8 Q673.3,80.7 670.4,78.2 Q667.4,75.8 667.6,75.0Z" fill="#383838" stroke-width="0.8"/><polygon points="681.5,30.8 693.9,31.4 686.3,52.5 682.0,70.9 673.3,69.8 677.7,51.4" fill="#7c7c7c" stroke="none"/><path d="M679.5,31.1 Q680.9,28.7 683.4,28.1 L683.9,28.0 Q686.3,27.4 689.3,27.4 L692.0,27.5 Q695.0,27.6 697.9,28.5 L705.2,31.0 Q708.0,31.9 710.6,33.5 L714.1,35.7 Q716.7,37.3 717.9,39.3 L718.2,39.7 Q719.4,41.7 719.2,44.7 L719.0,49.5 Q718.8,52.5 718.0,55.4 L715.3,64.8 Q714.5,67.7 713.5,70.5 L710.1,80.0 Q709.1,82.8 707.6,84.8 L707.3,85.2 Q705.8,87.2 702.9,87.7 L702.3,87.8 Q699.3,88.3 696.4,87.5 L689.2,85.7 Q686.3,85.0 683.5,84.1 L676.2,81.6 Q673.3,80.7 671.0,78.8 L669.7,77.7 Q667.4,75.8 667.4,73.6 L667.4,73.1 Q667.4,70.9 668.2,68.0 L670.3,60.8 Q671.2,57.9 672.1,55.1 L674.6,46.7 Q675.5,43.8 676.2,40.9 L677.0,37.0 Q677.7,34.1 679.1,31.6 Z" fill="none"/><path d="M662.6,44.5 Q662.5,43.3 663.4,42.5 L664.8,41.4 Q665.8,40.6 666.9,40.8 L667.8,40.9 Q669.0,41.1 670.0,41.8 L678.8,47.5 Q679.8,48.2 679.6,49.4 L679.5,50.2 Q679.3,51.4 678.2,51.9 L676.6,52.6 Q675.5,53.0 674.4,52.7 L668.0,50.7 Q666.8,50.3 665.8,49.7 L664.1,48.8 Q663.0,48.2 662.9,47.0 Z" fill="#e9bd72" stroke-width="1.4"/><circle cx="683.6" cy="33.5" r="1.7" fill="#fff" stroke="none"/><path d="M671.7,70.4 675.5,70.4" stroke="#ddd" stroke-width="1.2"/></g>
<g stroke="#0b0f1a" stroke-width="1.1" fill="none" stroke-linecap="round">
<path d="M639.2,65.5 652.8,78.5 M645.7,64.4 654.9,76.3 M653.3,68.2 656.5,74.2"/>
<path d="M713.4,86.6 728.6,82.3 M717.2,89.3 725.3,86.1"/>
<path d="M561,191 l1,5 M564,190 l1,5"/><path d="M754,183 l1,8 M758,183 l0,6"/>
</g>
<polygon points="919.0,305.0 925.0,303.0 932.0,304.0 935.0,302.0 940.0,310.0 944.0,319.0 950.0,323.0 958.0,322.0 963.0,325.0 971.0,321.0 979.0,320.0 989.0,322.0 999.0,324.0 1007.0,321.0 1017.0,320.0 1029.0,322.0 1041.0,321.0 1053.0,320.0 1063.0,322.0 1071.0,321.0 1077.0,313.0 1081.0,314.0 1086.0,323.0 1093.0,328.0 1097.0,321.0 1099.0,309.0 1098.0,304.0 1105.0,299.0 1115.0,296.0 1123.0,298.5 1117.0,299.0 1109.0,302.0 1104.0,305.0 1105.0,313.0 1106.0,324.0 1110.0,335.0 1116.0,338.0 1109.0,345.0 1107.0,351.0 1113.0,358.0 1118.8,362.5 1110.0,370.0 1107.5,378.8 1109.5,380.0 1116.2,386.8 1125.8,394.0 1123.8,396.0 1127.0,405.5 1132.5,410.0 1142.5,407.5 1143.0,413.5 1133.8,416.2 1128.2,424.2 1129.0,430.8 1133.8,443.0 1125.8,439.0 1121.8,430.8 1124.2,417.5 1120.2,411.5 1112.2,408.8 1107.0,404.0 1109.5,416.2 1106.2,418.2 1107.0,425.5 1109.5,437.5 1116.2,445.5 1116.2,452.2 1123.0,459.8 1132.5,456.2 1135.0,464.2 1132.5,468.2 1126.2,471.0 1124.2,483.0 1133.8,485.8 1147.0,490.5 1161.2,478.5 1164.5,479.0 1171.2,486.5 1165.8,485.8 1165.2,487.0 1160.5,485.0 1149.8,497.8 1133.8,493.0 1123.0,495.8 1116.2,493.0 1119.0,483.0 1119.0,468.2 1115.0,466.2 1109.5,457.8 1104.2,460.2 1099.0,456.2 1095.0,463.0 1091.2,474.0 1081.5,468.8 1069.5,471.0 1066.5,474.8 1057.5,474.8 1044.0,477.8 1039.5,475.5 1027.5,481.5 1019.2,490.5 1027.5,504.8 1024.5,516.0 1028.2,526.5 1026.0,529.5 1020.0,516.0 1020.8,505.5 1011.0,494.2 1016.2,482.2 1008.0,474.8 1002.0,475.5 993.0,470.2 987.0,476.2 975.0,482.2 960.0,492.0 963.0,477.0 949.5,474.8 946.5,477.8 939.0,472.5 930.0,468.8 922.2,468.2 917.2,471.2 922.2,464.2 922.2,457.2 924.2,454.8 924.2,449.8 926.2,447.8 934.2,446.8 934.8,441.2 937.2,438.2 937.8,433.2 934.2,430.8 928.2,429.2 924.2,434.2 918.2,438.2 914.2,440.2 910.2,442.2 900.2,438.8 896.2,440.8 890.0,435.8 884.5,443.2 880.5,448.2 874.0,443.8 880.0,441.2 886.5,432.2 891.5,429.8 898.2,435.2 905.2,435.8 912.2,435.2 916.2,432.2 922.2,431.2 923.2,421.5 929.2,423.5 934.2,423.5 934.8,417.5 937.8,413.0 941.2,409.5 940.0,402.5 936.2,399.5 929.2,409.0 925.0,397.5 923.8,395.0 928.8,387.5 916.2,367.5 917.0,364.0 929.0,359.0 934.0,353.0 941.0,349.0 939.0,341.0 942.0,335.0 950.0,333.0 942.0,328.0 936.0,321.0 933.0,311.0 926.0,307.0 922.0,309.0" fill="#fbf2b4" stroke="#0b0f1a" stroke-width="1.9" stroke-linejoin="miter"/>
<polygon points="947,340 1000,326 1096,332 1100,342 1097,446 1041,470 949,459" fill="#fef8dc" filter="url(#blur5)"/>
<polygon points="951,344 1000,331 1092.5,336 1095,342.5 1092.5,442.5 1040,465 954,455" fill="#fcf0c4" stroke="#e2a030" stroke-width="1.9" stroke-linejoin="round"/>
<g fill="#d6e6f0"><path d="M965,349 L1031,352 Q1036,352 1036,358 L1038,448 Q1038,455 1031,454 L967,449 Q960,448 960,441 L959,355 Q959,349 965,349Z"/><path d="M1052,349 L1085,342 Q1090,341 1090,347 L1089,436 Q1089,440 1085,442 L1050,456 Q1045,457 1045,452 L1047,354 Q1047,350 1052,349Z"/><path d="M968,343 L1002,334.5 L1085,338 L1043,348Z"/></g>
<path d="M1042,349 L1041,463 M953,345 L1042,349 L1093,338" fill="none" stroke="#e5a838" stroke-width="1"/>
<g fill="#fff"><ellipse cx="1010" cy="335.5" rx="4.5" ry="2.5"/><ellipse cx="1054" cy="357.5" rx="4.5" ry="5"/><circle cx="964" cy="442.5" r="4.5"/><ellipse cx="1086.5" cy="434" rx="3.5" ry="5"/></g>
<g transform="translate(1085.5,795.5) rotate(132.7)" stroke="#0b0f1a" stroke-width="1.5" stroke-linejoin="round"><path d="M41,16.5 L0,16.5 A16.5,16.5 0 0 1 -16.5,0 L-36.5,0 A36.5,36.5 0 0 0 0,36.5 L41,36.5Z" fill="#3a55b8"/><path d="M41,-16.5 L0,-16.5 A16.5,16.5 0 0 0 -16.5,0 L-36.5,0 A36.5,36.5 0 0 1 0,-36.5 L41,-36.5Z" fill="#c43c3c"/><rect x="41" y="16.5" width="21" height="20" fill="#8c8c8c"/><rect x="41" y="-36.5" width="21" height="20" fill="#8c8c8c"/></g><g transform="translate(1085.5,794.0) rotate(132.7)" ><path d="M41,16.5 L0,16.5 A16.5,16.5 0 0 1 -16.5,0 L-36.5,0 A36.5,36.5 0 0 0 0,36.5 L41,36.5Z" fill="#3a55b8"/><path d="M41,-16.5 L0,-16.5 A16.5,16.5 0 0 0 -16.5,0 L-36.5,0 A36.5,36.5 0 0 1 0,-36.5 L41,-36.5Z" fill="#c43c3c"/><rect x="41" y="16.5" width="21" height="20" fill="#8c8c8c"/><rect x="41" y="-36.5" width="21" height="20" fill="#8c8c8c"/></g><g transform="translate(1085.5,792.5) rotate(132.7)" ><path d="M41,16.5 L0,16.5 A16.5,16.5 0 0 1 -16.5,0 L-36.5,0 A36.5,36.5 0 0 0 0,36.5 L41,36.5Z" fill="#3a55b8"/><path d="M41,-16.5 L0,-16.5 A16.5,16.5 0 0 0 -16.5,0 L-36.5,0 A36.5,36.5 0 0 1 0,-36.5 L41,-36.5Z" fill="#c43c3c"/><rect x="41" y="16.5" width="21" height="20" fill="#8c8c8c"/><rect x="41" y="-36.5" width="21" height="20" fill="#8c8c8c"/></g><g transform="translate(1085.5,791.0) rotate(132.7)" ><path d="M41,16.5 L0,16.5 A16.5,16.5 0 0 1 -16.5,0 L-36.5,0 A36.5,36.5 0 0 0 0,36.5 L41,36.5Z" fill="#3a55b8"/><path d="M41,-16.5 L0,-16.5 A16.5,16.5 0 0 0 -16.5,0 L-36.5,0 A36.5,36.5 0 0 1 0,-36.5 L41,-36.5Z" fill="#c43c3c"/><rect x="41" y="16.5" width="21" height="20" fill="#8c8c8c"/><rect x="41" y="-36.5" width="21" height="20" fill="#8c8c8c"/></g><g transform="translate(1085.5,789.5) rotate(132.7)" stroke="#0b0f1a" stroke-width="1.5" stroke-linejoin="round"><path d="M41,16.5 L0,16.5 A16.5,16.5 0 0 1 -16.5,0 L-36.5,0 A36.5,36.5 0 0 0 0,36.5 L41,36.5Z" fill="#5b79ea"/><path d="M41,-16.5 L0,-16.5 A16.5,16.5 0 0 0 -16.5,0 L-36.5,0 A36.5,36.5 0 0 1 0,-36.5 L41,-36.5Z" fill="#f95f5f"/><rect x="41" y="16.5" width="21" height="20" fill="#cfcfcf"/><rect x="41" y="-36.5" width="21" height="20" fill="#cfcfcf"/></g>
<text x="0" y="0" transform="translate(1031,812) rotate(-47)" style="font-size:15px;fill:#fff;font-weight:bold" text-anchor="middle" dominant-baseline="central">S</text>
<text x="0" y="0" transform="translate(1067,851.5) rotate(-47)" style="font-size:15px;fill:#fff;font-weight:bold" text-anchor="middle" dominant-baseline="central">N</text>
<path d="M995.9,833.4 q5.4,0.4 6.4,-4.9 q1.0,-5.3 6.4,-4.9 q5.4,0.4 6.4,-4.9" fill="none" stroke="#6a78d8" stroke-width="1" stroke-linecap="round"/><path d="M1012.8,839.0 q4.0,0.5 4.9,-3.4 q0.9,-3.9 4.9,-3.4 q4.0,0.5 4.9,-3.4" fill="none" stroke="#6a78d8" stroke-width="1" stroke-linecap="round"/><path d="M1042.0,866.0 q3.8,-0.0 4.1,-3.8 q0.4,-3.7 4.1,-3.8 q3.8,-0.0 4.1,-3.8" fill="none" stroke="#e8506a" stroke-width="1" stroke-linecap="round"/><path d="M1044.3,881.8 q5.5,-0.5 5.6,-6.0 q0.1,-5.5 5.6,-6.0 q5.5,-0.5 5.6,-6.0" fill="none" stroke="#e8506a" stroke-width="1" stroke-linecap="round"/>
<path d="M656,1080 L657,1050 Q662,1036 680,1026 Q700,1012 740,1004 Q780,999 830,1003 Q880,1008 915,1022 Q950,1036 972,1052 L975,1080 Z" fill="#fdeee8" filter="url(#blur5)"/>
<path d="M660,1080 Q663,1056 690,1046 Q730,1030 800,1028 Q870,1029 930,1046 Q962,1056 969,1080Z" fill="#fbe0d6" filter="url(#blur5)" opacity="0.75"/>
<g filter="url(#blur1)"><path d="M752.3,979.5 Q753.0,995.9 756.7,1011.1 Q757.1,1015.9 752.3,1015.9 Q747.5,1015.9 747.9,1011.1 Q751.6,995.9 752.3,979.5Z" fill="#bfd6f5" opacity="1"/><path d="M806.2,964.2 Q807.6,997.0 815.0,1027.5 Q815.9,1037.1 806.2,1037.1 Q796.6,1037.1 797.5,1027.5 Q804.8,997.0 806.2,964.2Z" fill="#bfd6f5" opacity="1"/><path d="M847.7,984.6 Q848.8,1009.5 854.7,1032.3 Q855.4,1040.0 847.7,1040.0 Q840.0,1040.0 840.7,1032.3 Q846.5,1009.5 847.7,984.6Z" fill="#bfd6f5" opacity="1"/><path d="M769.8,1010.8 Q770.4,1026.6 773.3,1042.0 Q773.6,1045.8 769.8,1045.8 Q765.9,1045.8 766.3,1042.0 Q769.2,1026.6 769.8,1010.8Z" fill="#bfd6f5" opacity="1"/><path d="M710.0,1028.9 Q710.3,1036.8 712.0,1044.2 Q712.2,1046.4 710.0,1046.4 Q707.8,1046.4 708.0,1044.2 Q709.7,1036.8 710.0,1028.9Z" fill="#c3d9f6" opacity="0.8"/><path d="M736.8,1018.1 Q737.0,1026.0 738.1,1034.2 Q738.3,1035.6 736.8,1035.6 Q735.4,1035.6 735.5,1034.2 Q736.6,1026.0 736.8,1018.1Z" fill="#c3d9f6" opacity="0.7"/><path d="M880.6,1015.2 Q881.0,1028.3 883.0,1041.8 Q883.2,1044.4 880.6,1044.4 Q878.1,1044.4 878.3,1041.8 Q880.2,1028.3 880.6,1015.2Z" fill="#c3d9f6" opacity="0.85"/><path d="M904.0,1018.9 Q904.2,1028.7 905.4,1039.1 Q905.6,1040.7 904.0,1040.7 Q902.4,1040.7 902.5,1039.1 Q903.7,1028.7 904.0,1018.9Z" fill="#c3d9f6" opacity="0.7"/><path d="M927.3,1041.5 Q927.8,1048.0 930.2,1052.8 Q930.5,1056.0 927.3,1056.0 Q924.1,1056.0 924.4,1052.8 Q926.8,1048.0 927.3,1041.5Z" fill="#c3d9f6" opacity="0.8"/><path d="M785.8,936.5 Q786.0,950.9 787.1,967.1 Q787.3,968.5 785.8,968.5 Q784.4,968.5 784.5,967.1 Q785.6,950.9 785.8,936.5Z" fill="#c3d9f6" opacity="0.35"/><path d="M829.0,962.7 Q829.2,971.9 830.3,981.7 Q830.4,983.1 829.0,983.1 Q827.6,983.1 827.7,981.7 Q828.8,971.9 829.0,962.7Z" fill="#c3d9f6" opacity="0.3"/><path d="M854.4,975.8 Q854.6,983.7 855.7,991.9 Q855.8,993.3 854.4,993.3 Q852.9,993.3 853.1,991.9 Q854.2,983.7 854.4,975.8Z" fill="#c3d9f6" opacity="0.3"/></g>
<path d="M653,1075 Q660,1070 669,1069 Q685,1064 698,1062 Q715,1059 736,1059 L786,1059 L827,1060.4 L867.5,1062 L902.5,1063 Q925,1064 943,1066 Q960,1068 969.6,1072 Q976,1075 974,1078 Q970,1082 961,1084 Q940,1088 917,1091 Q895,1094 873,1095 L829.6,1095 L771,1094 L727.5,1092.5 Q712,1092 698,1089.6 Q688,1087 681,1082 Q668,1080 657.5,1079 Q651,1077 653,1075Z" fill="#8db7f5" stroke="#0b0f1a" stroke-width="0.9"/>
<path d="M657.5,1079 Q668,1080 681,1082 Q688,1087 698,1089.6 Q712,1092 727.5,1092.5 L771,1094 L829.6,1095 L873,1095 Q895,1094 917,1091 Q940,1088 961,1084 Q970,1082 974,1078" fill="none" stroke="#0b0f1a" stroke-width="1.4" stroke-linecap="round"/>
<path d="M726.0,1070.9 Q726.0,1061.0 740.6,1061.0 Q755.2,1061.0 755.2,1070.9" fill="#6ea3ee" stroke="#0b0f1a" stroke-width="0.9"/><ellipse cx="738.3" cy="1065.5" rx="6.4" ry="2.8" fill="#e8f1fe"/><path d="M794.6,1065.7 Q794.6,1058.1 806.2,1058.1 Q817.9,1058.1 817.9,1065.7" fill="#6ea3ee" stroke="#0b0f1a" stroke-width="0.9"/><ellipse cx="804.4" cy="1061.5" rx="5.1" ry="2.1" fill="#e8f1fe"/><path d="M790.2,1082.0 Q790.2,1072.7 803.3,1072.7 Q816.5,1072.7 816.5,1082.0" fill="#6ea3ee" stroke="#0b0f1a" stroke-width="0.9"/><ellipse cx="801.2" cy="1076.9" rx="5.8" ry="2.6" fill="#e8f1fe"/><path d="M847.1,1080.2 Q847.1,1072.7 858.7,1072.7 Q870.4,1072.7 870.4,1080.2" fill="#6ea3ee" stroke="#0b0f1a" stroke-width="0.9"/><ellipse cx="856.9" cy="1076.1" rx="5.1" ry="2.1" fill="#e8f1fe"/>
<g fill="none" stroke="#0b0f1a" stroke-width="0.9" stroke-linecap="round"><path d="M724,1083 q8,-5 14,0 q-6,4 -14,0 M760,1081 q8,-4 14,0 M897,1077 q10,-5 22,-1 q-10,5 -22,1 M925,1076 q6,-2 10,0 M821,1069 l3,-6 l2,5 l3,-8 l2,8 l3,-10 l1,11 l5,-9 l-1,10 M863,1067 l4,-6 l2,5 l6,1 l4,-3 l5,4 l6,-3 l8,2"/></g>
<g fill="#dbe9fd"><circle cx="736.9" cy="1066.7" r="1.1"/><circle cx="713.3" cy="1065.7" r="1.1"/><circle cx="936.0" cy="1084.8" r="1.5"/><circle cx="732.8" cy="1078.0" r="1.0"/><circle cx="718.4" cy="1066.8" r="0.9"/><circle cx="938.8" cy="1085.6" r="1.5"/><circle cx="901.7" cy="1069.0" r="1.0"/><circle cx="851.1" cy="1083.0" r="1.6"/><circle cx="925.0" cy="1066.3" r="1.3"/><circle cx="864.1" cy="1077.2" r="0.9"/><circle cx="806.3" cy="1066.3" r="1.6"/><circle cx="920.7" cy="1078.2" r="1.0"/><circle cx="933.4" cy="1078.9" r="1.6"/><circle cx="915.6" cy="1077.2" r="1.1"/><circle cx="842.9" cy="1075.2" r="0.9"/><circle cx="757.1" cy="1085.1" r="0.7"/><circle cx="681.5" cy="1080.3" r="1.0"/><circle cx="824.1" cy="1076.3" r="1.0"/><circle cx="959.2" cy="1069.1" r="1.1"/><circle cx="727.2" cy="1080.4" r="1.0"/><circle cx="771.9" cy="1083.4" r="1.0"/><circle cx="831.1" cy="1087.5" r="0.8"/><circle cx="686.0" cy="1070.0" r="1.5"/><circle cx="847.7" cy="1070.2" r="1.0"/><circle cx="719.8" cy="1075.9" r="0.7"/><circle cx="871.6" cy="1087.3" r="1.7"/><circle cx="882.6" cy="1089.0" r="0.7"/><circle cx="752.4" cy="1089.1" r="1.5"/><circle cx="787.8" cy="1088.5" r="1.3"/><circle cx="906.8" cy="1071.6" r="0.9"/><circle cx="797.7" cy="1067.5" r="1.1"/><circle cx="948.8" cy="1072.6" r="0.7"/><circle cx="681.1" cy="1068.4" r="1.5"/><circle cx="773.9" cy="1071.5" r="0.8"/><circle cx="954.7" cy="1075.0" r="0.9"/><circle cx="685.3" cy="1065.4" r="0.9"/><circle cx="865.6" cy="1067.9" r="0.7"/><circle cx="811.3" cy="1070.5" r="1.7"/><circle cx="703.7" cy="1077.8" r="1.5"/><circle cx="787.5" cy="1089.7" r="1.2"/><circle cx="738.6" cy="1074.7" r="0.7"/><circle cx="791.0" cy="1070.5" r="1.6"/><circle cx="910.7" cy="1077.0" r="0.7"/><circle cx="742.3" cy="1070.3" r="0.9"/><circle cx="735.6" cy="1086.6" r="0.8"/><circle cx="683.0" cy="1088.1" r="1.3"/></g>
<g fill="#a9c8f4"><circle cx="903.5" cy="1048.1" r="1.2"/><circle cx="849.6" cy="1055.8" r="1.1"/><circle cx="824.1" cy="1041.9" r="0.7"/><circle cx="884.8" cy="1058.0" r="1.2"/><circle cx="798.9" cy="1053.1" r="1.2"/><circle cx="847.8" cy="1056.3" r="1.0"/><circle cx="849.8" cy="1053.7" r="0.8"/><circle cx="892.6" cy="1059.1" r="0.7"/><circle cx="900.4" cy="1059.2" r="1.1"/><circle cx="752.1" cy="1058.0" r="0.7"/><circle cx="900.0" cy="1053.3" r="0.6"/><circle cx="771.8" cy="1052.7" r="1.0"/><circle cx="864.4" cy="1058.5" r="0.8"/><circle cx="745.5" cy="1058.4" r="0.6"/><circle cx="885.2" cy="1042.3" r="1.2"/><circle cx="870.3" cy="1057.6" r="1.0"/><circle cx="885.6" cy="1044.0" r="1.1"/><circle cx="797.9" cy="1057.8" r="1.1"/><circle cx="820.4" cy="1050.5" r="0.6"/><circle cx="750.5" cy="1051.9" r="0.9"/><circle cx="883.4" cy="1052.2" r="0.7"/><circle cx="803.0" cy="1055.4" r="1.0"/></g>
<path d="M325.8,1111.9 Q325.1,1109.1 331.3,1105.7 Q337.5,1102.3 351.3,1099.5 Q365.0,1096.8 377.4,1091.3 Q389.8,1085.8 396.6,1083.0 Q403.5,1080.3 425.5,1084.4 Q447.5,1088.5 468.1,1095.4 Q488.8,1102.3 519.0,1098.1 Q549.3,1094.0 561.7,1098.1 Q574.0,1102.3 587.8,1107.1 Q601.5,1111.9 608.4,1115.3 Q615.3,1118.8 615.0,1122.9 Q614.7,1127.0 599.9,1129.8 Q585.0,1132.5 564.4,1134.6 Q543.8,1136.6 523.1,1137.3 Q502.5,1138.0 481.9,1139.0 Q461.3,1139.9 440.6,1138.3 Q420.0,1136.6 399.4,1133.2 Q378.8,1129.8 360.9,1125.6 Q343.0,1121.5 334.8,1118.1 Q326.5,1114.6 325.8,1111.9Z" fill="#6ea3ee" stroke="#0b0f1a" stroke-width="1.8"/>
<path d="M329.9,1112.7 Q329.3,1110.0 334.8,1106.8 Q340.3,1103.6 352.6,1100.9 Q365.0,1098.1 377.4,1092.9 Q389.8,1087.7 397.3,1084.7 Q404.9,1081.6 426.2,1085.8 Q447.5,1089.9 466.8,1096.4 Q486.0,1102.8 480.5,1106.7 Q475.0,1110.5 469.5,1113.3 Q464.0,1116.0 461.3,1119.5 Q458.5,1122.9 466.8,1126.3 Q475.0,1129.8 458.5,1129.8 Q442.0,1129.8 428.3,1131.1 Q414.5,1132.5 396.6,1129.8 Q378.8,1127.0 362.3,1123.6 Q345.8,1120.1 338.2,1117.8 Q330.6,1115.5 329.9,1112.7Z" fill="#8fb9f5"/>
<g stroke="#0b0f1a" stroke-width="1.8" stroke-linejoin="round"><polygon points="422.8,1022.5 508.0,1055.5 488.8,1102.3 403.5,1080.3" fill="#a6cbfb" stroke="none"/><polygon points="508.0,1055.5 556.1,1058.3 557.5,1063.8 549.3,1094.0 488.8,1102.3" fill="#6ea3ee" stroke-width="1.2"/><polygon points="424.1,1019.8 431.0,1020.6 480.5,1028.0 556.1,1058.3 508.0,1055.5 422.8,1022.5" fill="#cfe2fd" stroke-width="1.2"/><path d="M403.5,1080.3 422.8,1022.5 L424.1,1019.8 480.5,1028.0 556.1,1058.3 557.5,1063.8 549.3,1094.0" fill="none"/><path d="M508.0,1055.5 488.8,1102.3" fill="none" stroke-width="1.2"/></g>
<g fill="none" stroke="#dbe9fd" stroke-width="1.6" stroke-linecap="round"><path d="M414.5,1084.4 424.1,1087.1 M433.8,1090.7 442.0,1092.9 M387.0,1096.8 400.8,1105.0 M450.3,1099.0 459.9,1100.9 M472.3,1111.9 497.0,1109.1 519.0,1106.4 543.8,1102.3  M461.3,1120.1 480.5,1118.2 499.8,1116.0 M425.5,1128.4 447.5,1130.3 469.5,1129.8"/></g>
<path d="M400.8,1089.9 414.5,1094.0 425.5,1099.5 431.0,1103.6" fill="none" stroke="#0b0f1a" stroke-width="0.9"/>
<clipPath id="texclip"><polygon points="131.3,283.8 172.5,272.5 270,277.5 273.8,281.3 272.5,377.5 220,405 132.5,392.5"/></clipPath><g fill="none" stroke-linecap="round" clip-path="url(#texclip)"><path d="M172.2,348.0 q-0.2,7.6 1.1,15.2" stroke="#6d9fe8" stroke-width="1.5"/><path d="M200.3,339.6 q-2.0,5.9 -0.6,11.8" stroke="#c9dffc" stroke-width="1.3"/><path d="M200.8,361.3 q2.3,2.7 0.5,5.5" stroke="#6d9fe8" stroke-width="2.1"/><path d="M148.6,293.5 q-2.3,5.4 1.1,10.8" stroke="#c9dffc" stroke-width="2.0"/><path d="M198.2,324.6 q0.1,5.8 0.4,11.5" stroke="#c9dffc" stroke-width="1.9"/><path d="M189.0,337.7 q1.0,4.0 -0.6,8.1" stroke="#c9dffc" stroke-width="1.5"/><path d="M159.1,299.0 q-2.0,6.7 -0.6,13.4" stroke="#6d9fe8" stroke-width="1.3"/><path d="M137.4,360.5 q-0.2,3.7 1.4,7.3" stroke="#c9dffc" stroke-width="1.8"/><path d="M141.8,354.9 q-0.8,6.8 -0.6,13.6" stroke="#5f94e2" stroke-width="1.2"/><path d="M168.8,384.3 q-2.4,3.2 -0.1,6.5" stroke="#c9dffc" stroke-width="1.9"/><path d="M190.6,310.8 q-0.4,5.3 -0.3,10.6" stroke="#c9dffc" stroke-width="1.8"/><path d="M215.2,292.0 q2.5,7.3 -1.4,14.5" stroke="#5f94e2" stroke-width="1.5"/><path d="M215.7,352.2 q2.4,5.7 -0.9,11.3" stroke="#c9dffc" stroke-width="1.6"/><path d="M197.8,324.9 q-2.1,4.1 -0.9,8.3" stroke="#c9dffc" stroke-width="2.1"/><path d="M137.2,328.9 q2.3,5.9 -0.0,11.8" stroke="#c9dffc" stroke-width="2.0"/><path d="M205.3,310.3 q1.6,3.3 -0.8,6.7" stroke="#c9dffc" stroke-width="1.5"/><path d="M195.2,386.0 q1.9,3.6 0.3,7.2" stroke="#6d9fe8" stroke-width="1.8"/><path d="M144.3,295.9 q1.2,7.8 -0.3,15.6" stroke="#c9dffc" stroke-width="1.8"/><path d="M208.4,341.1 q-1.9,5.4 -0.1,10.7" stroke="#c9dffc" stroke-width="2.1"/><path d="M185.3,299.4 q1.2,3.7 -1.3,7.3" stroke="#c9dffc" stroke-width="1.8"/><path d="M155.9,296.7 q-2.0,4.1 -1.1,8.1" stroke="#c9dffc" stroke-width="1.8"/><path d="M162.5,365.3 q0.4,5.4 1.3,10.7" stroke="#c9dffc" stroke-width="1.9"/><path d="M164.6,323.2 q-0.1,2.7 0.7,5.4" stroke="#c9dffc" stroke-width="1.6"/><path d="M215.9,299.5 q2.0,5.5 0.7,11.0" stroke="#c9dffc" stroke-width="2.2"/><path d="M199.5,383.5 q2.0,4.4 1.1,8.9" stroke="#6d9fe8" stroke-width="1.8"/><path d="M199.2,378.3 q-0.6,5.7 -1.5,11.3" stroke="#6d9fe8" stroke-width="1.3"/><path d="M143.3,303.6 q1.1,3.9 -0.3,7.8" stroke="#6d9fe8" stroke-width="2.2"/><path d="M182.5,336.1 q0.1,7.1 0.0,14.2" stroke="#c9dffc" stroke-width="1.6"/><path d="M143.0,294.2 q-0.0,7.8 0.3,15.5" stroke="#c9dffc" stroke-width="2.5"/><path d="M156.5,293.1 q0.1,4.2 0.8,8.3" stroke="#c9dffc" stroke-width="1.7"/><path d="M210.4,341.8 q0.8,3.8 -0.9,7.7" stroke="#6d9fe8" stroke-width="1.8"/><path d="M200.5,383.4 q-1.4,7.3 1.3,14.7" stroke="#6d9fe8" stroke-width="1.5"/><path d="M146.8,327.1 q1.1,7.4 1.4,14.9" stroke="#c9dffc" stroke-width="1.6"/><path d="M149.5,337.1 q1.7,4.0 -0.4,8.0" stroke="#c9dffc" stroke-width="1.9"/><path d="M189.8,363.6 q-0.9,7.1 1.0,14.3" stroke="#6d9fe8" stroke-width="1.6"/><path d="M184.6,359.8 q-1.0,4.0 0.9,8.1" stroke="#5f94e2" stroke-width="1.2"/><path d="M146.9,337.5 q-1.3,2.6 -1.1,5.3" stroke="#5f94e2" stroke-width="1.3"/><path d="M186.3,336.6 q2.3,6.0 0.6,11.9" stroke="#5f94e2" stroke-width="1.5"/><path d="M174.0,309.9 q0.2,2.6 -1.4,5.1" stroke="#6d9fe8" stroke-width="1.5"/><path d="M198.3,346.0 q-0.5,7.7 0.9,15.4" stroke="#c9dffc" stroke-width="2.5"/><path d="M143.0,385.3 q-0.2,6.5 -0.9,12.9" stroke="#c9dffc" stroke-width="2.4"/><path d="M136.5,347.0 q-0.2,6.1 0.5,12.2" stroke="#5f94e2" stroke-width="1.5"/><path d="M193.8,373.8 q-1.4,6.0 1.2,12.1" stroke="#c9dffc" stroke-width="2.6"/><path d="M214.2,345.7 q-1.2,6.8 0.7,13.7" stroke="#5f94e2" stroke-width="1.2"/><path d="M176.4,295.7 q1.3,4.4 -0.0,8.8" stroke="#6d9fe8" stroke-width="1.2"/><path d="M200.7,298.4 q0.2,6.9 0.6,13.8" stroke="#c9dffc" stroke-width="2.5"/><path d="M173.6,392.0 q2.2,7.5 -0.0,14.9" stroke="#6d9fe8" stroke-width="2.5"/><path d="M142.9,314.1 q1.7,5.4 0.2,10.8" stroke="#5f94e2" stroke-width="1.4"/><path d="M177.1,382.7 q2.3,3.9 1.1,7.8" stroke="#6d9fe8" stroke-width="2.1"/><path d="M160.4,306.1 q0.4,5.5 -0.9,11.0" stroke="#5f94e2" stroke-width="2.0"/><path d="M176.3,352.5 q0.1,2.7 -0.3,5.3" stroke="#c9dffc" stroke-width="2.3"/><path d="M181.0,341.1 q2.2,6.3 -0.1,12.6" stroke="#c9dffc" stroke-width="2.5"/><path d="M200.0,332.4 q-1.9,3.9 -0.2,7.7" stroke="#6d9fe8" stroke-width="2.3"/><path d="M208.0,339.7 q-0.4,4.2 -1.4,8.5" stroke="#c9dffc" stroke-width="1.6"/><path d="M192.2,389.7 q-1.4,2.7 0.6,5.4" stroke="#c9dffc" stroke-width="1.7"/><path d="M164.4,354.0 q1.8,3.1 0.4,6.2" stroke="#c9dffc" stroke-width="2.2"/><path d="M192.1,379.9 q1.6,2.6 0.3,5.3" stroke="#6d9fe8" stroke-width="2.0"/><path d="M205.1,345.4 q1.8,3.7 0.3,7.4" stroke="#c9dffc" stroke-width="2.4"/><path d="M154.6,366.1 q-0.9,7.0 -0.6,13.9" stroke="#c9dffc" stroke-width="2.5"/><path d="M153.5,391.8 q1.9,7.4 -1.1,14.8" stroke="#c9dffc" stroke-width="1.3"/><path d="M242.5,332.4 q-1.2,5.8 0.3,11.5" stroke="#8db8f3" stroke-width="1.8"/><path d="M229.3,345.0 q-1.5,3.4 0.0,6.9" stroke="#3f74c8" stroke-width="1.8"/><path d="M247.6,355.8 q-0.1,2.8 -1.0,5.5" stroke="#a9ccfa" stroke-width="1.8"/><path d="M252.6,376.2 q-1.3,3.9 -0.6,7.9" stroke="#8db8f3" stroke-width="1.8"/><path d="M269.6,378.2 q-1.5,2.4 0.4,4.8" stroke="#a9ccfa" stroke-width="1.1"/><path d="M229.4,328.4 q-0.3,3.7 0.2,7.4" stroke="#3f74c8" stroke-width="1.0"/><path d="M256.5,370.5 q-0.6,2.7 -0.3,5.5" stroke="#4a80d4" stroke-width="1.9"/><path d="M252.2,300.8 q1.6,5.2 0.6,10.3" stroke="#3f74c8" stroke-width="1.7"/><path d="M263.7,350.5 q0.0,3.6 1.0,7.2" stroke="#8db8f3" stroke-width="1.8"/><path d="M236.6,376.8 q1.3,5.0 -0.2,10.0" stroke="#8db8f3" stroke-width="1.9"/><path d="M264.6,356.6 q-0.4,5.1 0.4,10.1" stroke="#8db8f3" stroke-width="1.1"/><path d="M240.4,335.6 q2.0,2.0 0.8,4.1" stroke="#3f74c8" stroke-width="1.0"/><path d="M237.3,381.4 q0.6,3.2 0.1,6.4" stroke="#8db8f3" stroke-width="1.5"/><path d="M242.5,385.0 q1.0,4.6 1.0,9.1" stroke="#a9ccfa" stroke-width="1.0"/><path d="M252.7,360.7 q0.0,3.0 0.5,6.1" stroke="#4a80d4" stroke-width="1.6"/><path d="M225.5,316.0 q0.2,3.1 0.0,6.2" stroke="#3f74c8" stroke-width="2.0"/><path d="M250.6,384.5 q0.2,4.6 0.3,9.1" stroke="#a9ccfa" stroke-width="2.0"/><path d="M242.4,379.3 q1.4,3.5 0.1,7.1" stroke="#8db8f3" stroke-width="1.6"/><path d="M244.3,338.0 q0.4,3.1 -0.3,6.3" stroke="#4a80d4" stroke-width="1.3"/><path d="M254.5,344.1 q-1.9,3.1 0.5,6.3" stroke="#3f74c8" stroke-width="1.6"/><path d="M253.5,330.0 q1.6,4.7 0.5,9.5" stroke="#a9ccfa" stroke-width="1.1"/><path d="M269.5,379.8 q-0.3,2.3 -0.0,4.6" stroke="#8db8f3" stroke-width="2.0"/><path d="M236.0,340.7 q-1.4,5.7 0.9,11.5" stroke="#4a80d4" stroke-width="1.2"/><path d="M256.8,296.7 q-1.2,3.7 -0.9,7.3" stroke="#a9ccfa" stroke-width="1.5"/><path d="M230.6,333.2 q0.4,4.7 0.3,9.3" stroke="#4a80d4" stroke-width="1.7"/><path d="M241.4,361.2 q1.8,5.3 0.5,10.5" stroke="#8db8f3" stroke-width="1.2"/><path d="M230.1,375.0 q-0.9,5.1 0.2,10.3" stroke="#3f74c8" stroke-width="1.7"/><path d="M256.5,309.7 q-1.2,3.1 -0.5,6.2" stroke="#8db8f3" stroke-width="2.0"/><path d="M266.2,373.7 q-2.0,2.2 -0.5,4.3" stroke="#a9ccfa" stroke-width="1.0"/><path d="M226.7,312.7 q1.7,3.1 -0.7,6.2" stroke="#a9ccfa" stroke-width="1.2"/><path d="M269.2,337.0 q-0.6,3.4 0.5,6.8" stroke="#3f74c8" stroke-width="1.8"/><path d="M228.3,303.1 q-0.2,5.2 0.5,10.5" stroke="#8db8f3" stroke-width="1.4"/><path d="M231.8,306.3 q-0.8,5.3 0.5,10.7" stroke="#3f74c8" stroke-width="1.8"/><path d="M233.3,352.8 q1.5,4.3 -0.8,8.6" stroke="#4a80d4" stroke-width="1.1"/><path d="M181.1,339.5 q-1.0,5.7 0.8,11.5" stroke="#2c5fb5" stroke-width="0.8"/><path d="M142.1,312.9 q-2.1,5.6 -0.6,11.3" stroke="#2c5fb5" stroke-width="0.8"/><path d="M194.0,360.0 q-1.8,4.1 -0.4,8.3" stroke="#2c5fb5" stroke-width="0.8"/><path d="M194.1,327.9 q1.0,3.5 0.2,6.9" stroke="#2c5fb5" stroke-width="0.8"/><path d="M209.5,384.1 q-0.3,6.7 0.9,13.3" stroke="#2c5fb5" stroke-width="0.8"/><path d="M160.4,323.1 q2.2,4.6 1.2,9.2" stroke="#2c5fb5" stroke-width="0.8"/><path d="M155.9,327.4 q-0.7,4.5 -0.3,8.9" stroke="#2c5fb5" stroke-width="0.8"/><path d="M167.0,311.1 q1.5,5.3 0.1,10.5" stroke="#2c5fb5" stroke-width="0.8"/><path d="M202.9,347.2 q1.3,3.7 1.1,7.4" stroke="#2c5fb5" stroke-width="0.8"/><path d="M158.5,294.2 q0.2,5.1 0.2,10.1" stroke="#2c5fb5" stroke-width="0.8"/><path d="M213.3,355.8 q-2.2,6.2 0.1,12.4" stroke="#2c5fb5" stroke-width="0.8"/><path d="M199.0,300.2 q1.2,3.3 1.2,6.7" stroke="#2c5fb5" stroke-width="0.8"/><path d="M142.8,354.1 q1.2,3.6 0.4,7.2" stroke="#2c5fb5" stroke-width="0.8"/><path d="M155.6,313.6 q0.1,6.1 0.8,12.1" stroke="#2c5fb5" stroke-width="0.8"/><path d="M167.6,325.1 q0.9,6.9 -0.0,13.7" stroke="#2c5fb5" stroke-width="0.8"/><path d="M179.0,362.7 q2.1,5.8 -0.3,11.7" stroke="#2c5fb5" stroke-width="0.8"/><path d="M202.1,357.3 q1.5,6.4 1.0,12.8" stroke="#2c5fb5" stroke-width="0.8"/><path d="M207.1,385.9 q0.1,5.6 0.6,11.1" stroke="#2c5fb5" stroke-width="0.8"/><path d="M200.2,333.3 q-1.8,4.7 0.7,9.4" stroke="#2c5fb5" stroke-width="0.8"/><path d="M215.3,328.8 q-1.5,3.7 -0.2,7.3" stroke="#2c5fb5" stroke-width="0.8"/><path d="M159.4,387.0 q-1.0,3.2 -1.2,6.5" stroke="#2c5fb5" stroke-width="0.8"/><path d="M187.8,368.0 q-2.2,3.7 -0.1,7.4" stroke="#2c5fb5" stroke-width="0.8"/><path d="M182.7,381.1 q-2.0,3.1 -0.9,6.3" stroke="#2c5fb5" stroke-width="0.8"/><path d="M153.4,315.1 q0.5,5.9 -0.8,11.7" stroke="#2c5fb5" stroke-width="0.8"/><path d="M150.8,319.5 q1.3,3.7 -0.6,7.4" stroke="#2c5fb5" stroke-width="0.8"/><path d="M179.9,372.1 q-1.2,4.9 1.2,9.8" stroke="#2c5fb5" stroke-width="0.8"/><path d="M266.1,323.8 q1.8,3.6 -0.0,7.3" stroke="#1f4fa6" stroke-width="0.8"/><path d="M234.9,296.6 q1.2,4.8 -0.2,9.7" stroke="#1f4fa6" stroke-width="0.8"/><path d="M248.7,340.0 q2.0,2.8 0.3,5.6" stroke="#1f4fa6" stroke-width="0.8"/><path d="M235.7,293.0 q-0.5,3.4 0.6,6.8" stroke="#1f4fa6" stroke-width="0.8"/><path d="M257.1,348.4 q-1.4,2.5 -0.4,4.9" stroke="#1f4fa6" stroke-width="0.8"/><path d="M236.7,372.8 q0.5,3.5 1.0,7.1" stroke="#1f4fa6" stroke-width="0.8"/><path d="M237.0,341.7 q1.1,2.5 -1.0,4.9" stroke="#1f4fa6" stroke-width="0.8"/><path d="M262.0,370.7 q-1.7,4.5 -0.5,8.9" stroke="#1f4fa6" stroke-width="0.8"/><path d="M257.2,301.0 q-0.1,3.4 0.9,6.9" stroke="#1f4fa6" stroke-width="0.8"/><path d="M251.4,371.7 q1.2,2.9 -0.2,5.8" stroke="#1f4fa6" stroke-width="0.8"/><path d="M266.3,300.5 q-1.2,4.5 0.1,9.0" stroke="#1f4fa6" stroke-width="0.8"/><path d="M248.7,306.7 q-0.8,4.5 -0.4,9.0" stroke="#1f4fa6" stroke-width="0.8"/><path d="M228.4,320.4 q0.9,3.4 -0.3,6.8" stroke="#1f4fa6" stroke-width="0.8"/><path d="M255.9,301.8 q-0.2,3.2 0.9,6.4" stroke="#1f4fa6" stroke-width="0.8"/><path d="M236.4,280.9 q4,-1 8,0.5" stroke="#d6e7fd" stroke-width="1.3"/><path d="M171.0,278.4 q4,-1 8,0.5" stroke="#d6e7fd" stroke-width="1.3"/><path d="M226.8,277.1 q4,-1 8,0.5" stroke="#d6e7fd" stroke-width="1.3"/><path d="M215.1,279.1 q4,-1 8,0.5" stroke="#d6e7fd" stroke-width="1.3"/><path d="M170.8,283.9 q4,-1 8,0.5" stroke="#d6e7fd" stroke-width="1.3"/><path d="M234.0,276.9 q4,-1 8,0.5" stroke="#d6e7fd" stroke-width="1.3"/><path d="M219.3,277.6 q4,-1 8,0.5" stroke="#d6e7fd" stroke-width="1.3"/><path d="M200.1,279.9 q4,-1 8,0.5" stroke="#d6e7fd" stroke-width="1.3"/><path d="M193.9,278.0 q4,-1 8,0.5" stroke="#d6e7fd" stroke-width="1.3"/><path d="M201.4,281.0 q4,-1 8,0.5" stroke="#d6e7fd" stroke-width="1.3"/></g>
<polygon points="245.1,363.2 247.6,360.7 253.5,359.5 259.3,358.6 256.8,353.6 251.0,345.3 245.1,336.9 240.1,328.5 235.9,321.0 235.7,318.5 237.2,317.2 239.7,317.2 245.1,323.1 251.0,330.6 256.8,337.7 255.1,331.4 253.5,325.2 250.5,316.8 248.5,310.1 248.9,307.6 251.0,306.6 253.5,307.6 257.7,314.3 263.1,323.5 268.5,332.7 268.4,325.2 268.1,318.5 267.3,310.9 266.9,304.2 268.1,301.6 270.2,301.1 272.3,303.0 274.8,310.1 276.9,316.8 279.0,323.5 280.7,329.4 281.1,321.8 281.5,315.1 283.2,310.9 285.7,309.4 288.2,310.5 289.9,316.8 291.1,324.3 292.8,331.9 295.3,340.2 297.4,348.6 298.8,357.0 295.7,365.3 286.9,372.0 279.4,375.0 271.9,373.7 260.2,370.4 249.3,367.8" fill="#fcf1cb" stroke="#0b0f1a" stroke-width="2.4" stroke-linejoin="round"/>
<path d="M284.5,298 q5,2.5 7,7 M289,295.5 q2.5,1.5 3.5,3.5" fill="none" stroke="#0b0f1a" stroke-width="1" stroke-linecap="round"/>
<g style="opacity:0.999">
<text class="ttl" x="600.8" y="603.5" text-anchor="middle" textLength="292" lengthAdjust="spacingAndGlyphs">Properties of</text>
<text class="ttl" x="602.3" y="662.5" text-anchor="middle" textLength="150" lengthAdjust="spacingAndGlyphs">Matter</text>
<text class="lb" x="380" y="302" textLength="107.0" lengthAdjust="spacingAndGlyphs">Solubility</text>
<text class="lb" x="596.7" y="252.5" textLength="120.3" lengthAdjust="spacingAndGlyphs">Brittleness</text>
<text class="lb" x="726.7" y="320.8" textLength="107.1" lengthAdjust="spacingAndGlyphs">Hardness</text>
<text class="lb" x="802.3" y="471.5" textLength="104.5" lengthAdjust="spacingAndGlyphs">Electrical</text>
<text class="lb" x="783.6" y="502" textLength="141.2" lengthAdjust="spacingAndGlyphs">conductivity</text>
<text class="lb" x="914.5" y="630" textLength="61.5" lengthAdjust="spacingAndGlyphs">Color</text>
<text class="lb" x="753.8" y="818.9" textLength="139.0" lengthAdjust="spacingAndGlyphs">Response to</text>
<text class="lb" x="760.3" y="849.7" textLength="125.5" lengthAdjust="spacingAndGlyphs">magnetism</text>
<text class="lb" x="678" y="946.7" textLength="77.0" lengthAdjust="spacingAndGlyphs">Boiling</text>
<text class="lb" x="687" y="977.3" textLength="59.0" lengthAdjust="spacingAndGlyphs">point</text>
<text class="lb" x="442" y="982.6" textLength="118.0" lengthAdjust="spacingAndGlyphs">Melting or</text>
<text class="lb" x="425" y="1012.9" textLength="158.7" lengthAdjust="spacingAndGlyphs">freezing point</text>
<text class="lb" x="319" y="866" textLength="91.7" lengthAdjust="spacingAndGlyphs">Thermal</text>
<text class="lb" x="292.5" y="896.7" textLength="142.2" lengthAdjust="spacingAndGlyphs">conductivity</text>
<text class="lb" x="247" y="756" textLength="58.0" lengthAdjust="spacingAndGlyphs">Odor</text>
<text class="lb" x="224.8" y="539.6" textLength="128.2" lengthAdjust="spacingAndGlyphs">Reflectivity</text>
<text class="lb" x="298.8" y="397.5" textLength="85.0" lengthAdjust="spacingAndGlyphs">Texture</text>
</g>
</svg>
</body></html>
